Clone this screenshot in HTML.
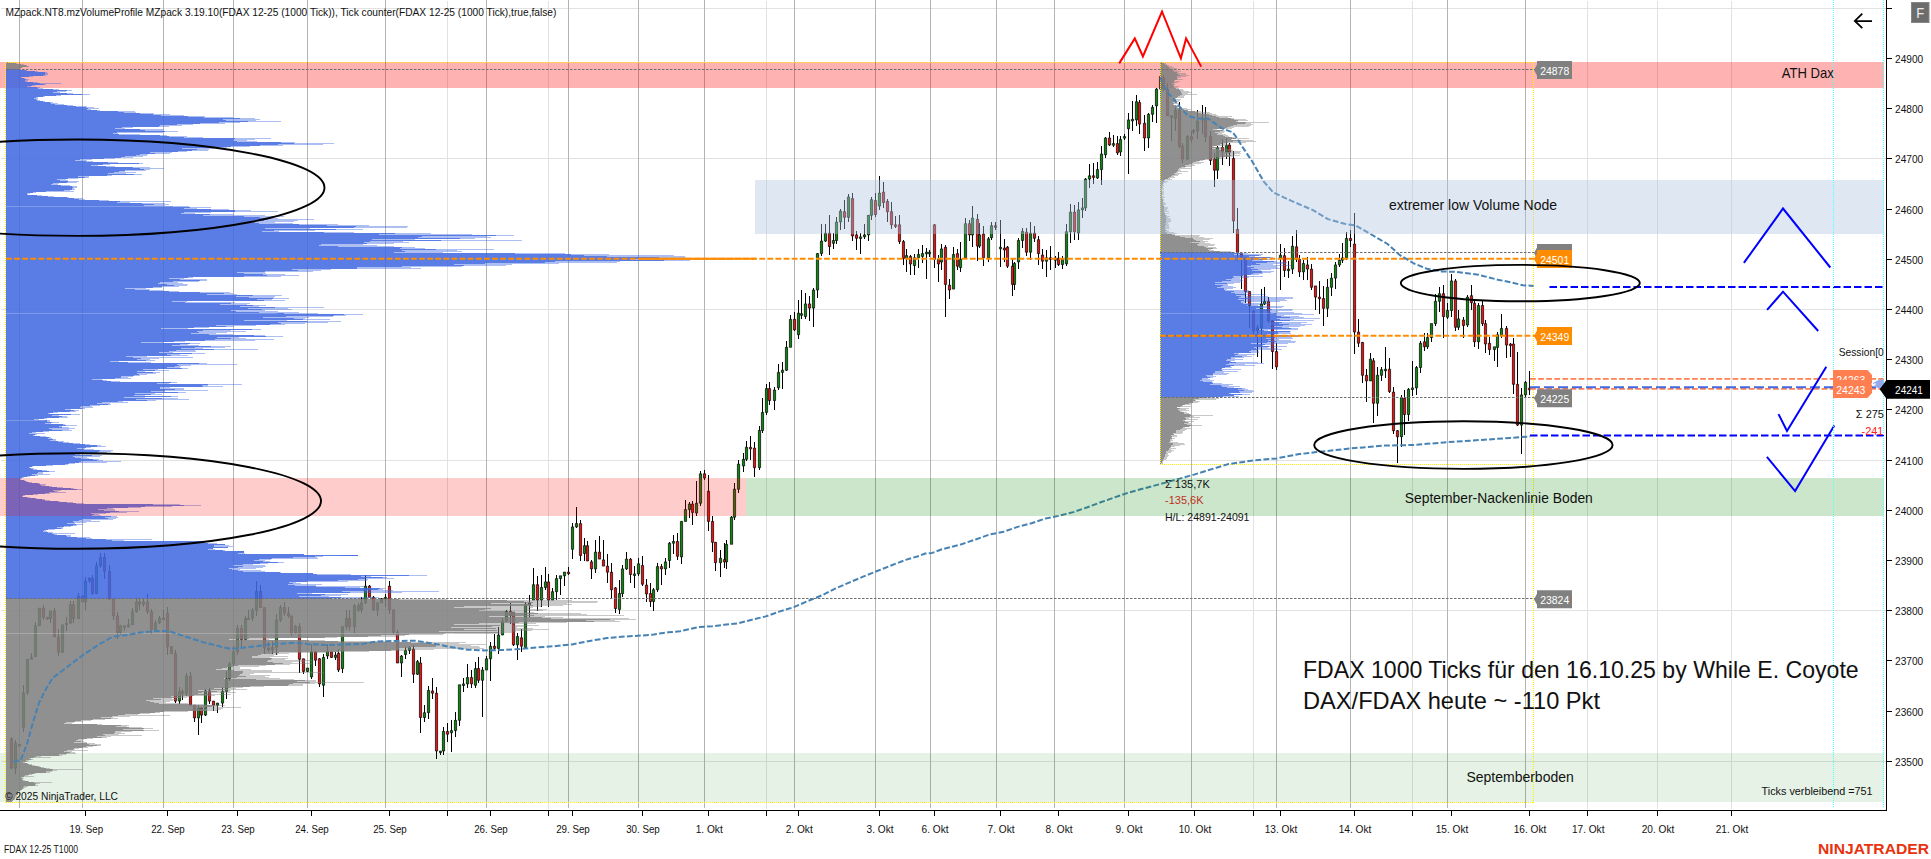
<!DOCTYPE html><html><head><meta charset="utf-8"><title>FDAX 12-25 T1000</title><style>html,body{margin:0;padding:0;background:#fff;overflow:hidden}svg{display:block}</style></head><body><svg width="1931" height="859" viewBox="0 0 1931 859"><rect x="0" y="0" width="1931" height="859" fill="#fff"/>
<path d="M447 0V808M548 0V808M766 0V808M1253 0V808M1412 0V808M1587 0V808M1657 0V808M1731 0V808M0 8H1885M0 158H1885M0 309H1885M0 460H1885M0 610H1885M0 761H1885" stroke="#e2e2e2" stroke-width="1" fill="none" shape-rendering="crispEdges" transform="translate(.5 .5)"/>
<path d="M19 0V808M82 0V808M163 0V808M233 0V808M307 0V808M385 0V808M486 0V808M568 0V808M638 0V808M704 0V808M794 0V808M875 0V808M930 0V808M996 0V808M1054 0V808M1124 0V808M1191 0V808M1276 0V808M1350 0V808M1447 0V808M1525 0V808" stroke="#b4b4b4" stroke-width="1" fill="none" shape-rendering="crispEdges" transform="translate(.5 0)"/>
<g transform="translate(.5 0)">
<path d="M11 736.9V769.2M15 740.1V774.2M19 744.5V745.9M23 684.8V731.7M27 659.2V694.8M31 653.3V659.2M35 621.7V657.4M39 608.1V625.7M43 605.1V620.3M47 617.3V619.7M50 610.9V622.7M54 607.9V636.9M58 628.9V656.2M62 624.8V653.2M66 617.2V630.8M70 600.7V623.2M73 600.7V622.7M78 593.3V618.7M82 595.3V601.9M85 577V609.9M89 577.2V583M92 575.2V594.5M96 561.6V593.5M100 553.2V567.6M104 553.2V579.2M109 565.2V600.1M113 599.1V619.9M117 611.9V638.7M120 624.7V634.7M124 625.7V631.1M128 618.8V627.1M132 607.7V624.8M136 597.9V612.7M139 598.9V610.2M143 597.9V607.2M147 593.9V613.7M151 608.7V633.9M155 619.9V631.9M159 616.1V623.9M163 610.1V620.3M167 607.1V654.6M171 645.6V653.6M175 649.6V703.1M179 687.4V704.1M182 689.4V699.6M186 673V695.6M190 672V705.3M194 705.3V721.9M198 705.1V734.7M201 707.1V723.1M205 688.8V716.1M209 687.8V704.1M213 701.1V711.3M217 703.1V713.3M222 687.4V707.1M226 670.8V699.4M229 662V680.8M233 645.7V666M237 624.5V654.7M241 624.5V647.7M245 615.7V639.7M248 610.1V618.7M252 608.3V621.1M256 581V616.3M260 585.3V607.5M264 607.5V654M268 642V652M272 641.2V654M276 614.1V655.2M280 604.5V622.1M284 601.5V616.1M288 607.1V617.9M291 615.9V636.2M295 624.5V634.2M299 622.6V672.8M303 658.8V674.4M307 668V672.4M311 643.8V678.9M315 650.8V666.2M319 657.8V686.9M323 654.4V696.5M327 643.8V659M331 651.8V658.4M335 652.1V660.4M338 649.2V672M342 625.6V672.8M346 610.3V629.6M349 610.3V630.6M354 603.7V632.6M358 602.7V611.9M361 596.9V612.9M365 574.9V603.9M369 585.1V597.3M373 596.3V610.9M377 601.9V615.9M381 597.7V602.9M385 594.3V606.7M389 580.5V613.9M393 608.9V634.2M397 630.2V663M401 655V676.9M405 647.4V658.6M409 645.6V654.4M413 645V682.5M417 659.6V675.2M420 657V733.4M424 704.7V721.5M428 686.4V718.7M432 678.3V699.2M436 687.2V758.6M440 751V754.9M443 727.3V755.2M447 723.4V742.2M451 720.3V751.9M455 712.3V736.6M459 684.8V725.9M463 678.3V692.3M467 664.4V688.1M471 669.5V687.9M475 661.6V688.3M478 657.4V683.3M482 667V716.6M486 655.8V670M490 642V681.1M494 633.6V651.4M498 626.6V654.4M502 618.1V635M506 609.9V622.1M510 602.9V623.8M513 612.1V645.8M517 633.4V659.6M521 629.4V651.8M525 601.5V648.6M529 594.5V616.9M533 567.9V600.1M537 576.3V611.3M541 574.9V607.1M545 566.6V589.5M548 573.5V606.5M552 587.7V600.1M556 574.9V600.1M560 575.8V594.5M564 572.1V586.1M568 566.6V574.9M572 522.9V559.1M576 507.4V527.9M580 519.6V560.5M584 538.1V561M587 540.9V561M591 559.9V578.7M595 540.4V572.9M599 535.9V559.1M603 539.5V566.1M607 553.5V582.8M611 563.3V597.8M615 586.9V612.8M619 580.1V613.6M622 564.9V596.5M626 552.1V569.9M630 557.7V583.4M634 566.1V588.4M638 557.8V575.9M642 555.5V586.2M646 578.7V601.9M650 582.8V607.4M653 587.8V610.8M657 562.6V591.8M661 563.6V585.1M665 557.7V574.5M669 542.3V567.5M673 535.3V553.5M677 533.1V559.9M681 521.4V563.8M685 500.4V521.4M689 502.4V517.6M692 501V524.7M696 480.8V516M700 470.8V506.2M704 469.7V480M708 475.2V531.1M712 515.8V552.1M715 542.3V571.1M720 549.9V576.7M724 543.2V568.3M726 539.5V568.9M731 516.2V544.3M734 483.2V520M738 460.4V493.4M743 452.9V472.4M746 440.9V461.3M750 436.1V459.9M754 442.1V476.6M759 425.8V469.7M762 398.4V432.5M766 384.4V415.4M769 381.6V404.5M774 387.2V410.1M778 363.5V389.7M782 362.2V389.2M786 341.3V371.2M790 315.3V347.3M794 312.3V330.9M798 299.7V339.4M801 290V319.1M805 292.8V318.7M809 295.6V320.7M813 288V327.1M817 252.6V298.3M821 223.7V256.4M825 223.7V242.4M829 214.5V254.5M833 233.2V249.4M836 217.3V243.8M840 208.9V229.9M844 199.7V228.5M848 194.1V221.5M852 192.6V241.1M856 231.3V250M860 232.9V253.6M864 224.3V238.8M868 215.3V241.1M871 196.9V220.1M875 192.5V217.3M879 176.2V209.7M883 181.8V207.5M887 199.1V222M891 201.9V228.5M895 215.9V227.6M899 215.3V244.4M903 239.7V264.8M906 249.4V272.4M910 254.5V274.6M914 253.6V275.1M918 249.4V268.4M922 245.2V262.9M926 248.2V278.8M929 250V257.3M934 223.7V267.6M938 255V281.6M941 243.8V270.4M945 245.2V316.5M949 279.2V299.2M953 246.5V289.1M957 248.9V270.4M960 242.4V271.8M965 217.7V258.4M969 220.1V241.1M972 206.1V247.2M977 213.7V260.6M979 222.9V248M983 226.1V265.6M988 236.8V262M991 221.7V239.7M995 222V229.9M1000 220.1V266.8M1004 238.8V262M1007 246.2V268.2M1012 258.2V296.4M1014 262.4V290M1018 238.3V269M1022 227.6V248M1026 228.1V256.2M1030 222V260.2M1034 225.7V242.3M1038 236V264.8M1042 249.4V269M1046 250V277.4M1050 246.1V270.4M1055 256.2V268M1058 252.2V265.6M1062 255.6V268.6M1066 223.7V265.8M1070 204.1V242.8M1074 205.1V239.7M1078 201.9V240.1M1082 198.1V217.7M1085 178.1V210.7M1089 164V188.3M1093 163.2V184.2M1097 162.4V179.1M1101 146V184.7M1105 136.6V157.6M1109 132.4V146M1113 135.2V147.3M1117 135.6V154.8M1120 136.4V155.6M1124 133.8V140M1128 112.9V174.4M1132 100.9V131.1M1136 94.7V125.9M1139 99.7V133.8M1144 115.2V150.6M1148 113.3V147.8M1152 104.5V122.1M1156 88.1V123.2M1160 72.6V98.9M1163 74.9V91.1M1167 83.1V115.7M1171 115.7V140.8M1175 107.3V131.1M1179 102.1V148.4M1182 143.4V163.2M1187 134.6V160M1191 130.6V143.4M1193 128.5V134.1M1197 110.1V139.1M1202 105.3V133.8M1205 107.3V142.2M1210 131.1V164.6M1214 153V186.9M1217 145.8V179.1M1222 138.9V164.6M1226 138V159M1229 143V166M1233 150.6V233.1M1237 207.6V260.7M1241 253.8V288.7M1245 256.9V303.2M1249 291.5V327.8M1253 310.1V334.8M1257 324.8V357.2M1261 289.3V362.8M1264 287.3V305.1M1268 296.5V322.8M1272 319.8V369.2M1276 343.2V369.7M1280 244V290.1M1284 248.2V277M1288 261.3V278.1M1292 235.6V274.2M1296 230V262.3M1299 255.3V277M1303 259.5V280.3M1307 256.9V279.7M1311 264.1V290.1M1315 285.9V309.7M1319 280.9V313.8M1323 285.9V326.4M1327 278.9V316.6M1331 272.5V295.7M1335 261.9V288.7M1339 253.8V266.9M1342 242.6V263M1346 232.4V259.9M1350 230.4V246.6M1354 213.2V354.4M1358 318.9V347.4M1362 342.4V383.3M1366 369.3V401.9M1370 353V380.9M1373 357.8V423.4M1377 367.3V415.9M1381 366.9V381.3M1385 346.8V377.7M1389 358V392.5M1393 386.5V433.7M1397 429.7V463.4M1401 394.7V446.6M1404 390.3V435.4M1408 387.9V420.5M1412 360.8V396.3M1416 365.5V394.9M1420 341.2V373.1M1424 333.4V350.7M1427 333.4V348.8M1431 323.6V341.8M1435 293.7V326.4M1439 287.3V312.4M1443 284.5V337.6M1447 302.5V319.4M1451 274.2V316.5M1455 278.9V330.6M1458 309.7V330.1M1463 317V337.6M1467 294.8V327.3M1471 285.3V309.7M1474 300.2V347.4M1478 302.5V348.8M1482 299.9V326.4M1485 320V353M1489 337.2V355.2M1494 346.8V360.8M1497 332V366.9M1501 313.8V337.6M1506 325.6V358M1510 343.2V357.2M1513 338V393.5M1517 351.6V425.6M1521 387.9V453.6M1525 381.3V397.7M1529 371.1V394.9" stroke="#000" stroke-width="1" fill="none" shape-rendering="crispEdges"/>
<path d="M13.9 743.1h2.2V768.2h-2.2zM17.9 744.5h2.2V746.1h-2.2zM21.9 692.8h2.2V727.7h-2.2zM25.9 659.2h2.2V692.8h-2.2zM29.9 657.3h2.2V659.2h-2.2zM33.9 625.7h2.2V656.4h-2.2zM37.9 608.1h2.2V625.7h-2.2zM48.9 610.9h2.2V618.7h-2.2zM60.9 624.8h2.2V652.2h-2.2zM64.9 623.2h2.2V624.8h-2.2zM68.9 604.7h2.2V623.2h-2.2zM76.9 596.3h2.2V618.7h-2.2zM83.9 581h2.2V601.9h-2.2zM87.9 578.2h2.2V581h-2.2zM94.9 565.6h2.2V593.5h-2.2zM98.9 557.2h2.2V565.6h-2.2zM118.9 625.7h2.2V632.7h-2.2zM126.9 624.8h2.2V627.1h-2.2zM130.9 611.7h2.2V624.8h-2.2zM134.9 601.9h2.2V611.7h-2.2zM141.9 601.9h2.2V604.2h-2.2zM153.9 622.9h2.2V629.9h-2.2zM157.9 618.1h2.2V622.9h-2.2zM177.9 691.4h2.2V701.1h-2.2zM184.9 676h2.2V693.6h-2.2zM196.9 708.1h2.2V717.9h-2.2zM203.9 690.8h2.2V715.1h-2.2zM215.9 703.1h2.2V705.3h-2.2zM220.9 691.4h2.2V703.1h-2.2zM224.9 678.8h2.2V691.4h-2.2zM227.9 664h2.2V678.8h-2.2zM231.9 651.7h2.2V664h-2.2zM235.9 628.5h2.2V651.7h-2.2zM243.9 618.7h2.2V639.7h-2.2zM246.9 618.1h2.2V619.7h-2.2zM250.9 610.3h2.2V618.1h-2.2zM254.9 591.3h2.2V610.3h-2.2zM270.9 647.2h2.2V650h-2.2zM274.9 620.1h2.2V647.2h-2.2zM278.9 607.5h2.2V620.1h-2.2zM293.9 626.5h2.2V633.2h-2.2zM305.9 668h2.2V671.4h-2.2zM309.9 651.8h2.2V676.9h-2.2zM321.9 657.4h2.2V685.3h-2.2zM325.9 651.8h2.2V656h-2.2zM333.9 655.1h2.2V657.4h-2.2zM340.9 626.6h2.2V668.6h-2.2zM344.9 618.3h2.2V626.6h-2.2zM352.9 605.7h2.2V626.6h-2.2zM359.9 602.9h2.2V609.9h-2.2zM363.9 586.1h2.2V602.9h-2.2zM375.9 602.9h2.2V609.9h-2.2zM379.9 598.7h2.2V602.9h-2.2zM383.9 597.3h2.2V598.9h-2.2zM399.9 656h2.2V663h-2.2zM403.9 650.4h2.2V654.6h-2.2zM407.9 647.6h2.2V650.4h-2.2zM415.9 661.6h2.2V674.2h-2.2zM422.9 712.7h2.2V717.5h-2.2zM426.9 690.4h2.2V712.7h-2.2zM438.9 751h2.2V752.6h-2.2zM441.9 731.4h2.2V751h-2.2zM449.9 730.6h2.2V732.8h-2.2zM453.9 720.3h2.2V730.6h-2.2zM457.9 684.8h2.2V720.3h-2.2zM461.9 683.9h2.2V685.5h-2.2zM465.9 677.5h2.2V683.9h-2.2zM473.9 668.6h2.2V685.3h-2.2zM480.9 670h2.2V680.3h-2.2zM484.9 658.8h2.2V670h-2.2zM488.9 646.2h2.2V658.8h-2.2zM496.9 635h2.2V648.4h-2.2zM500.9 621.1h2.2V635h-2.2zM504.9 611.3h2.2V621.1h-2.2zM515.9 636.4h2.2V644.8h-2.2zM523.9 604.3h2.2V647.6h-2.2zM527.9 602.9h2.2V604.5h-2.2zM531.9 584.7h2.2V600.1h-2.2zM539.9 587.5h2.2V600.1h-2.2zM543.9 581.9h2.2V587.5h-2.2zM550.9 591.7h2.2V600.1h-2.2zM554.9 578.6h2.2V591.7h-2.2zM558.9 575.8h2.2V578.6h-2.2zM562.9 572.1h2.2V575.8h-2.2zM570.9 526.9h2.2V549.3h-2.2zM574.9 523.6h2.2V526.9h-2.2zM582.9 545.7h2.2V553.5h-2.2zM593.9 552.1h2.2V568.9h-2.2zM617.9 593.5h2.2V609.4h-2.2zM620.9 568.9h2.2V593.5h-2.2zM624.9 559.1h2.2V568.9h-2.2zM632.9 573.9h2.2V575.5h-2.2zM636.9 563.8h2.2V573.9h-2.2zM651.9 589.8h2.2V601.6h-2.2zM655.9 566.6h2.2V589.8h-2.2zM663.9 561.9h2.2V568.9h-2.2zM667.9 543.2h2.2V560.5h-2.2zM671.9 541.5h2.2V543.2h-2.2zM679.9 521.4h2.2V556.9h-2.2zM683.9 509.6h2.2V521.4h-2.2zM687.9 504h2.2V509.6h-2.2zM694.9 503.2h2.2V513h-2.2zM698.9 473.8h2.2V503.2h-2.2zM718.9 558.3h2.2V562.7h-2.2zM724.9 544.3h2.2V561.9h-2.2zM729.9 517.2h2.2V544.3h-2.2zM732.9 489.2h2.2V517.2h-2.2zM736.9 464.1h2.2V489.2h-2.2zM741.9 459.3h2.2V466h-2.2zM744.9 447.3h2.2V459.3h-2.2zM757.9 430.5h2.2V467.7h-2.2zM760.9 412.4h2.2V430.5h-2.2zM764.9 388.6h2.2V412.4h-2.2zM772.9 390h2.2V400.6h-2.2zM776.9 372.4h2.2V387.8h-2.2zM780.9 370.2h2.2V372.4h-2.2zM784.9 347.3h2.2V370.2h-2.2zM788.9 319.3h2.2V347.3h-2.2zM796.9 313.2h2.2V334.7h-2.2zM799.9 313.7h2.2V315.3h-2.2zM803.9 303.9h2.2V316.5h-2.2zM811.9 290h2.2V308.1h-2.2zM815.9 253.6h2.2V290h-2.2zM819.9 241.1h2.2V253.6h-2.2zM823.9 233.2h2.2V241.1h-2.2zM831.9 240.5h2.2V243.3h-2.2zM834.9 222h2.2V240.5h-2.2zM838.9 211.1h2.2V222h-2.2zM846.9 196.9h2.2V217.3h-2.2zM858.9 236.9h2.2V238.5h-2.2zM862.9 234.9h2.2V236.9h-2.2zM866.9 215.3h2.2V234.9h-2.2zM869.9 199.7h2.2V215.3h-2.2zM877.9 193h2.2V206.1h-2.2zM904.9 255.6h2.2V258.4h-2.2zM912.9 257.8h2.2V265.6h-2.2zM916.9 254.5h2.2V257.8h-2.2zM920.9 253.6h2.2V256.4h-2.2zM924.9 252.2h2.2V253.8h-2.2zM927.9 252.2h2.2V253.8h-2.2zM939.9 248.9h2.2V262h-2.2zM951.9 254.5h2.2V289.1h-2.2zM958.9 259.2h2.2V267.6h-2.2zM963.9 223.7h2.2V257.8h-2.2zM970.9 218.1h2.2V234.9h-2.2zM977.9 234.9h2.2V246.1h-2.2zM986.9 238.8h2.2V257.8h-2.2zM989.9 225.7h2.2V237.7h-2.2zM998.9 247.2h2.2V248.8h-2.2zM1012.9 263.4h2.2V284.4h-2.2zM1016.9 240.5h2.2V262h-2.2zM1020.9 231.3h2.2V240.5h-2.2zM1028.9 233.2h2.2V252.2h-2.2zM1044.9 257.8h2.2V261.2h-2.2zM1053.9 258.2h2.2V260.2h-2.2zM1060.9 259.6h2.2V264.6h-2.2zM1064.9 231.7h2.2V263.8h-2.2zM1068.9 212.1h2.2V231.7h-2.2zM1076.9 209.9h2.2V233.1h-2.2zM1080.9 207.9h2.2V209.9h-2.2zM1083.9 179.1h2.2V207.9h-2.2zM1087.9 175.8h2.2V179.1h-2.2zM1095.9 169.6h2.2V178h-2.2zM1099.9 154h2.2V169.6h-2.2zM1103.9 138h2.2V154.8h-2.2zM1111.9 143.6h2.2V145.2h-2.2zM1118.9 139.4h2.2V152h-2.2zM1122.9 136.6h2.2V138.2h-2.2zM1126.9 119.9h2.2V128.8h-2.2zM1130.9 119.3h2.2V120.9h-2.2zM1134.9 101.7h2.2V119.9h-2.2zM1146.9 114.3h2.2V138h-2.2zM1150.9 107.3h2.2V114.3h-2.2zM1154.9 89.1h2.2V105.9h-2.2zM1158.9 76.6h2.2V89.1h-2.2zM1173.9 110.1h2.2V118.5h-2.2zM1185.9 136.6h2.2V159h-2.2zM1191.9 130.5h2.2V132.1h-2.2zM1195.9 121.3h2.2V131.1h-2.2zM1200.9 118.5h2.2V120.1h-2.2zM1215.9 147.8h2.2V170.2h-2.2zM1224.9 145.6h2.2V152h-2.2zM1255.9 327.8h2.2V330.6h-2.2zM1259.9 304.1h2.2V327.8h-2.2zM1262.9 301.3h2.2V304.1h-2.2zM1278.9 255.2h2.2V257.9h-2.2zM1286.9 269.1h2.2V270.7h-2.2zM1290.9 246.2h2.2V269.1h-2.2zM1301.9 263.5h2.2V271.9h-2.2zM1325.9 287.3h2.2V308.3h-2.2zM1329.9 278.1h2.2V287.3h-2.2zM1333.9 264.9h2.2V278.1h-2.2zM1337.9 260.2h2.2V264.9h-2.2zM1340.9 257.9h2.2V260.2h-2.2zM1344.9 238.4h2.2V257.9h-2.2zM1368.9 359.1h2.2V380.9h-2.2zM1375.9 375.3h2.2V403.3h-2.2zM1379.9 369.7h2.2V375.3h-2.2zM1383.9 369.2h2.2V370.8h-2.2zM1399.9 397.7h2.2V436.8h-2.2zM1406.9 389.3h2.2V414.5h-2.2zM1410.9 387.9h2.2V389.5h-2.2zM1414.9 367.5h2.2V387.9h-2.2zM1418.9 343.2h2.2V367.5h-2.2zM1425.9 337.6h2.2V346.8h-2.2zM1429.9 323.6h2.2V337.6h-2.2zM1433.9 301.3h2.2V323.6h-2.2zM1437.9 293.7h2.2V301.3h-2.2zM1445.9 310.5h2.2V317.2h-2.2zM1449.9 280.9h2.2V310.5h-2.2zM1456.9 318.9h2.2V327.3h-2.2zM1465.9 297.1h2.2V325h-2.2zM1476.9 305.5h2.2V341.8h-2.2zM1492.9 346.8h2.2V349.6h-2.2zM1495.9 334.8h2.2V347.4h-2.2zM1499.9 328.4h2.2V335.6h-2.2zM1519.9 394.9h2.2V425.1h-2.2zM1523.9 382.3h2.2V394.9h-2.2z" fill="#0a8a0a" stroke="#000" stroke-width=".7"/>
<path d="M9.9 738.9h2.2V768.2h-2.2zM41.9 608.1h2.2V617.3h-2.2zM45.9 617.3h2.2V618.9h-2.2zM52.9 610.9h2.2V636.9h-2.2zM56.9 636.9h2.2V652.2h-2.2zM71.9 604.7h2.2V618.7h-2.2zM80.9 596.3h2.2V601.9h-2.2zM90.9 578.2h2.2V593.5h-2.2zM102.9 557.2h2.2V571.2h-2.2zM107.9 571.2h2.2V599.1h-2.2zM111.9 599.1h2.2V615.9h-2.2zM115.9 615.9h2.2V632.7h-2.2zM122.9 625.7h2.2V627.3h-2.2zM137.9 601.9h2.2V604.2h-2.2zM145.9 601.9h2.2V611.7h-2.2zM149.9 611.7h2.2V629.9h-2.2zM161.9 618.1h2.2V619.7h-2.2zM165.9 613.1h2.2V646.6h-2.2zM169.9 646.6h2.2V653.6h-2.2zM173.9 653.6h2.2V701.1h-2.2zM180.9 691.4h2.2V693.6h-2.2zM188.9 676h2.2V705.3h-2.2zM192.9 705.3h2.2V717.9h-2.2zM199.9 708.1h2.2V715.1h-2.2zM207.9 690.8h2.2V701.1h-2.2zM211.9 701.1h2.2V705.3h-2.2zM239.9 628.5h2.2V639.7h-2.2zM258.9 591.3h2.2V607.5h-2.2zM262.9 607.5h2.2V648h-2.2zM266.9 648h2.2V650h-2.2zM282.9 607.5h2.2V613.1h-2.2zM286.9 613.1h2.2V615.9h-2.2zM289.9 615.9h2.2V633.2h-2.2zM297.9 626.6h2.2V659.3h-2.2zM301.9 658.8h2.2V671.4h-2.2zM313.9 651.8h2.2V660.2h-2.2zM317.9 658.8h2.2V683.9h-2.2zM329.9 651.8h2.2V657.4h-2.2zM336.9 653.2h2.2V670h-2.2zM347.9 618.3h2.2V626.6h-2.2zM356.9 605.7h2.2V609.9h-2.2zM367.9 586.1h2.2V597.3h-2.2zM371.9 597.3h2.2V609.9h-2.2zM387.9 586.1h2.2V609.9h-2.2zM391.9 609.9h2.2V632.2h-2.2zM395.9 632.2h2.2V663h-2.2zM411.9 649h2.2V674.2h-2.2zM418.9 663h2.2V717.5h-2.2zM430.9 690.9h2.2V693.2h-2.2zM434.9 693.2h2.2V751h-2.2zM445.9 731.4h2.2V734.2h-2.2zM469.9 677.5h2.2V683.9h-2.2zM476.9 668.6h2.2V680.3h-2.2zM492.9 646.2h2.2V648.4h-2.2zM508.9 611.3h2.2V615.5h-2.2zM511.9 612.1h2.2V644.8h-2.2zM519.9 637.8h2.2V646.2h-2.2zM535.9 584.7h2.2V600.1h-2.2zM546.9 581.9h2.2V600.1h-2.2zM566.9 572.1h2.2V573.7h-2.2zM578.9 523.6h2.2V555.5h-2.2zM585.9 545.7h2.2V561h-2.2zM589.9 561.9h2.2V568.9h-2.2zM597.9 552.1h2.2V559.1h-2.2zM601.9 559.9h2.2V566.1h-2.2zM605.9 566.1h2.2V572.2h-2.2zM609.9 572.2h2.2V589.8h-2.2zM613.9 587.9h2.2V608.6h-2.2zM628.9 559.1h2.2V574.5h-2.2zM640.9 565.5h2.2V584.2h-2.2zM644.9 585.1h2.2V594h-2.2zM648.9 593.5h2.2V601.6h-2.2zM659.9 566.6h2.2V568.9h-2.2zM675.9 541.5h2.2V556.3h-2.2zM690.9 504h2.2V512.4h-2.2zM702.9 473.8h2.2V478h-2.2zM706.9 491.2h2.2V521.4h-2.2zM710.9 521.4h2.2V542.3h-2.2zM713.9 542.3h2.2V562.7h-2.2zM722.9 559.6h2.2V561.9h-2.2zM748.9 447.3h2.2V448.9h-2.2zM752.9 448.1h2.2V467.7h-2.2zM767.9 388.6h2.2V400.6h-2.2zM792.9 319.3h2.2V329.9h-2.2zM807.9 303.9h2.2V308.1h-2.2zM827.9 233.2h2.2V246.6h-2.2zM842.9 211.7h2.2V217.3h-2.2zM850.9 198.6h2.2V236h-2.2zM854.9 234.9h2.2V238.3h-2.2zM873.9 200.5h2.2V214.5h-2.2zM881.9 192.1h2.2V202.5h-2.2zM885.9 201.4h2.2V211.7h-2.2zM889.9 211.7h2.2V224.8h-2.2zM893.9 224.8h2.2V226.4h-2.2zM897.9 224.8h2.2V241.6h-2.2zM901.9 241.6h2.2V258.4h-2.2zM908.9 256.4h2.2V264h-2.2zM932.9 224.8h2.2V259.2h-2.2zM936.9 259.2h2.2V264h-2.2zM943.9 247.2h2.2V284.4h-2.2zM947.9 285.2h2.2V290h-2.2zM955.9 253.6h2.2V266.2h-2.2zM967.9 223.7h2.2V234.9h-2.2zM975.9 219.3h2.2V246.1h-2.2zM981.9 234.1h2.2V257.8h-2.2zM993.9 225.7h2.2V227.3h-2.2zM1002.9 248h2.2V250h-2.2zM1005.9 247.2h2.2V266.2h-2.2zM1010.9 266.2h2.2V284.4h-2.2zM1024.9 232.1h2.2V252.2h-2.2zM1032.9 233.2h2.2V238.3h-2.2zM1036.9 239.7h2.2V253.6h-2.2zM1040.9 255h2.2V261.2h-2.2zM1048.9 257.8h2.2V259.4h-2.2zM1056.9 258.2h2.2V264.6h-2.2zM1072.9 212.1h2.2V231.7h-2.2zM1091.9 175.8h2.2V177.4h-2.2zM1107.9 138h2.2V145h-2.2zM1115.9 143.6h2.2V152.9h-2.2zM1137.9 102.5h2.2V124.1h-2.2zM1142.9 123.2h2.2V138h-2.2zM1161.9 77.9h2.2V89.1h-2.2zM1165.9 89.1h2.2V115.7h-2.2zM1169.9 115.7h2.2V117.3h-2.2zM1177.9 110.1h2.2V146.4h-2.2zM1180.9 146.4h2.2V159h-2.2zM1189.9 136.6h2.2V139.4h-2.2zM1203.9 118.5h2.2V136.6h-2.2zM1208.9 136.6h2.2V160.4h-2.2zM1212.9 159h2.2V170.2h-2.2zM1220.9 147.3h2.2V152h-2.2zM1227.9 145h2.2V152h-2.2zM1231.9 158.4h2.2V221h-2.2zM1235.9 229.4h2.2V252.4h-2.2zM1239.9 253.8h2.2V257.9h-2.2zM1243.9 257.9h2.2V291.5h-2.2zM1247.9 291.5h2.2V305.5h-2.2zM1251.9 311.1h2.2V330.6h-2.2zM1266.9 301.3h2.2V320.8h-2.2zM1270.9 320.8h2.2V351.6h-2.2zM1274.9 351.6h2.2V366.9h-2.2zM1282.9 255.7h2.2V270.5h-2.2zM1294.9 246.8h2.2V259.3h-2.2zM1297.9 259.3h2.2V271.9h-2.2zM1305.9 264.9h2.2V269.1h-2.2zM1309.9 269.1h2.2V287.3h-2.2zM1313.9 285.9h2.2V297.1h-2.2zM1317.9 297.1h2.2V298.7h-2.2zM1321.9 298.5h2.2V308.3h-2.2zM1348.9 238.4h2.2V240.6h-2.2zM1352.9 244h2.2V332h-2.2zM1356.9 332h2.2V343.2h-2.2zM1360.9 342.4h2.2V375.3h-2.2zM1364.9 375.3h2.2V380.9h-2.2zM1371.9 360.8h2.2V403.3h-2.2zM1387.9 369.2h2.2V391.5h-2.2zM1391.9 392.1h2.2V430.7h-2.2zM1395.9 430.7h2.2V436.8h-2.2zM1402.9 398.3h2.2V414.5h-2.2zM1422.9 341.8h2.2V346.8h-2.2zM1441.9 293.7h2.2V316.6h-2.2zM1453.9 280.9h2.2V327.3h-2.2zM1461.9 320h2.2V325.6h-2.2zM1469.9 295.7h2.2V302.7h-2.2zM1472.9 303.2h2.2V341.8h-2.2zM1480.9 305.5h2.2V323.6h-2.2zM1483.9 323.6h2.2V344h-2.2zM1487.9 343.2h2.2V349.6h-2.2zM1504.9 328.4h2.2V345.1h-2.2zM1508.9 344h2.2V345.6h-2.2zM1511.9 344h2.2V384.3h-2.2zM1515.9 384.3h2.2V425.1h-2.2zM1527.9 388.2h2.2V389.8h-2.2z" fill="#f01010" stroke="#000" stroke-width=".7"/>
</g>
<rect x="0" y="62" width="1884" height="26" fill="#ff0000" fill-opacity="0.3" shape-rendering="crispEdges"/>
<rect x="0" y="753" width="1884" height="49" fill="#008000" fill-opacity="0.1" shape-rendering="crispEdges"/>
<path d="M6 62H9.3v1H6zM6 63H15.9v1H6zM6 64H21.3v1H6zM6 65H26v1H6zM6 66H28v1H6zM6 67H21.5v1H6zM6 68H20.1v1H6z" fill="#808080" fill-opacity="0.87" shape-rendering="crispEdges"/>
<path d="M9.3 62H9.6v1H9.3zM15.9 63H16.8v1H15.9zM21.3 64H23.7v1H21.3zM26 65H27.4v1H26zM28 66H29.4v1H28zM21.5 67H22.5v1H21.5zM20.1 68H20.8v1H20.1z" fill="#808080" fill-opacity="0.435" shape-rendering="crispEdges"/>
<path d="M6 69H18.8v1H6zM6 70H26v1H6zM6 71H35.3v1H6zM6 72H44.5v1H6zM6 73H44.9v1H6zM6 74H45.2v1H6zM6 75H43.4v1H6zM6 76H29.4v1H6zM6 77H21.1v1H6zM6 78H24.1v1H6zM6 79H26v1H6zM6 80H25.2v1H6zM6 81H25.4v1H6zM6 82H33v1H6zM6 83H40.1v1H6zM6 84H43.8v1H6zM6 85H32v1H6zM6 86H27.4v1H6zM6 87H36.9v1H6zM6 88H37.9v1H6zM6 89H53.3v1H6zM6 90H67v1H6zM6 91H57.3v1H6zM6 92H53v1H6zM6 93H66.8v1H6zM6 94H81.5v1H6zM6 95H55.7v1H6zM6 96H42.8v1H6zM6 97H35.8v1H6zM6 98H33.9v1H6zM6 99H36.3v1H6zM6 100H37.2v1H6zM6 101H42.7v1H6zM6 102H50.3v1H6zM6 103H51.2v1H6zM6 104H54.7v1H6zM6 105H67.3v1H6zM6 106H76.3v1H6zM6 107H86.2v1H6zM6 108H88.3v1H6zM6 109H86.6v1H6zM6 110H96.6v1H6zM6 111H118.2v1H6zM6 112H124v1H6zM6 113H140.3v1H6zM6 114H152.6v1H6zM6 115H161.2v1H6zM6 116H187.8v1H6zM6 117H204.3v1H6zM6 118H240.4v1H6zM6 119H222.9v1H6zM6 120H225.8v1H6zM6 121H248.4v1H6zM6 122H219.1v1H6zM6 123H200.1v1H6zM6 124H177v1H6zM6 125H160.2v1H6zM6 126H158.6v1H6zM6 127H121.7v1H6zM6 128H115.4v1H6zM6 129H140.1v1H6zM6 130H144.9v1H6zM6 131H164.5v1H6zM6 132H117.3v1H6zM6 133H112.5v1H6zM6 134H119.2v1H6zM6 135H159.8v1H6zM6 136H169.2v1H6zM6 137H183.9v1H6zM6 138H234.6v1H6zM6 139H234.4v1H6zM6 140H232.9v1H6zM6 141H236.6v1H6zM6 142H281.3v1H6zM6 143H293.7v1H6zM6 144H277.8v1H6zM6 145H259.7v1H6zM6 146H231.1v1H6zM6 147H213.9v1H6zM6 148H182.1v1H6zM6 149H197.3v1H6zM6 150H191.8v1H6zM6 151H178v1H6zM6 152H149.5v1H6zM6 153H155.3v1H6zM6 154H139.5v1H6zM6 155H136.4v1H6zM6 156H124.5v1H6zM6 157H121.3v1H6zM6 158H103.8v1H6zM6 159H79.9v1H6zM6 160H75.2v1H6zM6 161H85.8v1H6zM6 162H108.4v1H6zM6 163H139.1v1H6zM6 164H103.2v1H6zM6 165H91.4v1H6zM6 166H105.8v1H6zM6 167H133.3v1H6zM6 168H139.8v1H6zM6 169H144.1v1H6zM6 170H125v1H6zM6 171H119.2v1H6zM6 172H113.6v1H6zM6 173H107.9v1H6zM6 174H133.6v1H6zM6 175H107.2v1H6zM6 176H78.4v1H6zM6 177H84.7v1H6zM6 178H68.3v1H6zM6 179H57.4v1H6zM6 180H60.2v1H6zM6 181H67.9v1H6zM6 182H67.1v1H6zM6 183H52.7v1H6zM6 184H51.3v1H6zM6 185H60.7v1H6zM6 186H72v1H6zM6 187H73.4v1H6zM6 188H71.7v1H6zM6 189H71.5v1H6zM6 190H64v1H6zM6 191H46.1v1H6zM6 192H33.2v1H6zM6 193H26.8v1H6zM6 194H26.6v1H6zM6 195H36.5v1H6zM6 196H48.3v1H6zM6 197H66.5v1H6zM6 198H73.8v1H6zM6 199H78.8v1H6zM6 200H98.7v1H6zM6 201H120.1v1H6zM6 202H116.5v1H6zM6 203H142.3v1H6zM6 204H153.8v1H6zM6 205H144.2v1H6zM6 206H173.1v1H6zM6 207H189.9v1H6zM6 208H184.3v1H6zM6 209H210.8v1H6zM6 210H235.4v1H6zM6 211H235v1H6zM6 212H183.6v1H6zM6 213H181.4v1H6zM6 214H209.6v1H6zM6 215H203.4v1H6zM6 216H243.7v1H6zM6 217H260.3v1H6zM6 218H269.7v1H6zM6 219H268.2v1H6zM6 220H264.3v1H6zM6 221H251.4v1H6zM6 222H245.2v1H6zM6 223H258.5v1H6zM6 224H298.7v1H6zM6 225H326.7v1H6zM6 226H355.6v1H6zM6 227H354.4v1H6zM6 228H264.7v1H6zM6 229H335.5v1H6zM6 230H274v1H6zM6 231H261.7v1H6zM6 232H324.4v1H6zM6 233H394.8v1H6zM6 234H379.2v1H6zM6 235H496.1v1H6zM6 236H421.6v1H6zM6 237H418.4v1H6zM6 238H460v1H6zM6 239H371.5v1H6zM6 240H440.6v1H6zM6 241H369.5v1H6zM6 242H363.5v1H6zM6 243H366.7v1H6zM6 244H320.9v1H6zM6 245H319.2v1H6zM6 246H338.3v1H6zM6 247H402v1H6zM6 248H399.5v1H6zM6 249H436.2v1H6zM6 250H401.7v1H6zM6 251H405v1H6zM6 252H394.2v1H6zM6 253H514.8v1H6zM6 254H570.6v1H6zM6 255H584v1H6zM6 256H607.2v1H6zM6 257H658.9v1H6zM6 258H660.7v1H6zM6 259H630.3v1H6zM6 260H664.1v1H6zM6 261H555.4v1H6zM6 262H544.6v1H6zM6 263H484.7v1H6zM6 264H454v1H6zM6 265H463.6v1H6zM6 266H401.9v1H6zM6 267H357.2v1H6zM6 268H356.5v1H6zM6 269H291.7v1H6zM6 270H298v1H6zM6 271H265.1v1H6zM6 272H236.9v1H6zM6 273H243.8v1H6zM6 274H263v1H6zM6 275H267.1v1H6zM6 276H244v1H6zM6 277H187.8v1H6zM6 278H169.1v1H6zM6 279H179.9v1H6zM6 280H199.5v1H6zM6 281H173v1H6zM6 282H159.9v1H6zM6 283H158.1v1H6zM6 284H166.5v1H6zM6 285H173.5v1H6zM6 286H161.7v1H6zM6 287H153.1v1H6zM6 288H124.6v1H6zM6 289H134.6v1H6zM6 290H148.6v1H6zM6 291H168.5v1H6zM6 292H200v1H6zM6 293H223.7v1H6zM6 294H207.2v1H6zM6 295H253.1v1H6zM6 296H235.9v1H6zM6 297H249v1H6zM6 298H273.3v1H6zM6 299H257.4v1H6zM6 300H263.6v1H6zM6 301H171.7v1H6zM6 302H185.4v1H6zM6 303H231.2v1H6zM6 304H220.1v1H6zM6 305H253.3v1H6zM6 306H240.2v1H6zM6 307H274.7v1H6zM6 308H247.6v1H6zM6 309H262.3v1H6zM6 310H231.1v1H6zM6 311H236.2v1H6zM6 312H259.3v1H6zM6 313H284.4v1H6zM6 314H343.8v1H6zM6 315H334v1H6zM6 316H286v1H6zM6 317H262.9v1H6zM6 318H293.8v1H6zM6 319H303.3v1H6zM6 320H243.8v1H6zM6 321H306.5v1H6zM6 322H278.3v1H6zM6 323H280.5v1H6zM6 324H270.4v1H6zM6 325H216.3v1H6zM6 326H226.4v1H6zM6 327H193.5v1H6zM6 328H161.1v1H6zM6 329H251.9v1H6zM6 330H203.4v1H6zM6 331H197.4v1H6zM6 332H198.6v1H6zM6 333H191.4v1H6zM6 334H209.1v1H6zM6 335H253.7v1H6zM6 336H265.8v1H6zM6 337H217.1v1H6zM6 338H231v1H6zM6 339H215v1H6zM6 340H205.4v1H6zM6 341H174.3v1H6zM6 342H141.1v1H6zM6 343H190.2v1H6zM6 344H179.9v1H6zM6 345H172v1H6zM6 346H211.3v1H6zM6 347H194.7v1H6zM6 348H180.5v1H6zM6 349H214.3v1H6zM6 350H175.8v1H6zM6 351H168.8v1H6zM6 352H158.7v1H6zM6 353H191.9v1H6zM6 354H167.3v1H6zM6 355H171.3v1H6zM6 356H125.9v1H6zM6 357H132.6v1H6zM6 358H141.4v1H6zM6 359H137v1H6zM6 360H146v1H6zM6 361H110.3v1H6zM6 362H127.8v1H6zM6 363H198.7v1H6zM6 364H176.7v1H6zM6 365H178.8v1H6zM6 366H175.3v1H6zM6 367H166.6v1H6zM6 368H182.2v1H6zM6 369H142.8v1H6zM6 370H154.5v1H6zM6 371H137.2v1H6zM6 372H152.5v1H6zM6 373H136.8v1H6zM6 374H139.1v1H6zM6 375H134.4v1H6zM6 376H120.5v1H6zM6 377H121.2v1H6zM6 378H115.3v1H6zM6 379H92.2v1H6zM6 380H102.6v1H6zM6 381H110.9v1H6zM6 382H170.8v1H6zM6 383H157.2v1H6zM6 384H208.1v1H6zM6 385H201.8v1H6zM6 386H203.3v1H6zM6 387H159.6v1H6zM6 388H159.6v1H6zM6 389H174.9v1H6zM6 390H164.7v1H6zM6 391H151v1H6zM6 392H177.5v1H6zM6 393H134.6v1H6zM6 394H151.1v1H6zM6 395H133.7v1H6zM6 396H171.1v1H6zM6 397H123.5v1H6zM6 398H161.6v1H6zM6 399H135.5v1H6zM6 400H147v1H6zM6 401H117.5v1H6zM6 402H101.9v1H6zM6 403H97.3v1H6zM6 404H108v1H6zM6 405H90v1H6zM6 406H81.4v1H6zM6 407H80.3v1H6zM6 408H81.9v1H6zM6 409H64.5v1H6zM6 410H73.8v1H6zM6 411H70.1v1H6zM6 412H52.7v1H6zM6 413H47.6v1H6zM6 414H70.8v1H6zM6 415H51.5v1H6zM6 416H62.3v1H6zM6 417H58.9v1H6zM6 418H43.6v1H6zM6 419H34.4v1H6zM6 420H47.1v1H6zM6 421H46.6v1H6zM6 422H51.9v1H6zM6 423H44.5v1H6zM6 424H62.6v1H6zM6 425H65.6v1H6zM6 426H58.8v1H6zM6 427H61.6v1H6zM6 428H49.1v1H6zM6 429H51.5v1H6zM6 430H61.8v1H6zM6 431H42.6v1H6zM6 432H32.1v1H6zM6 433H28.9v1H6zM6 434H34.7v1H6zM6 435H32.8v1H6zM6 436H39.9v1H6zM6 437H48.5v1H6zM6 438H48v1H6zM6 439H52.8v1H6zM6 440H50.1v1H6zM6 441H58.1v1H6zM6 442H63.3v1H6zM6 443H73.1v1H6zM6 444H85.4v1H6zM6 445H96.9v1H6zM6 446H97.4v1H6zM6 447H85.5v1H6zM6 448H76.7v1H6zM6 449H84.2v1H6zM6 450H100.4v1H6zM6 451H98.5v1H6zM6 452H96.9v1H6zM6 453H86.4v1H6zM6 454H75.3v1H6zM6 455H92.3v1H6zM6 456H72.7v1H6zM6 457H75.1v1H6zM6 458H80.5v1H6zM6 459H92.7v1H6zM6 460H96.5v1H6zM6 461H81.3v1H6zM6 462H79.1v1H6zM6 463H68.8v1H6zM6 464H64.7v1H6zM6 465H46.1v1H6zM6 466H31.8v1H6zM6 467H28.6v1H6zM6 468H31.2v1H6zM6 469H33v1H6zM6 470H41.8v1H6zM6 471H48.5v1H6zM6 472H37.9v1H6zM6 473H37.1v1H6zM6 474H32.1v1H6zM6 475H34.6v1H6zM6 476H26.5v1H6zM6 477H22.1v1H6zM6 478H19.6v1H6zM6 479H19.5v1H6zM6 480H23.5v1H6zM6 481H25.9v1H6zM6 482H29.1v1H6zM6 483H37.6v1H6zM6 484H40.1v1H6zM6 485H41.3v1H6zM6 486H48.7v1H6zM6 487H56.9v1H6zM6 488H70.8v1H6zM6 489H76.9v1H6zM6 490H53.4v1H6zM6 491H55.4v1H6zM6 492H48.5v1H6zM6 493H45.1v1H6zM6 494H33.2v1H6zM6 495H22.9v1H6zM6 496H21.6v1H6zM6 497H26.9v1H6zM6 498H34.5v1H6zM6 499H42.1v1H6zM6 500H44.6v1H6zM6 501H57.7v1H6zM6 502H67.3v1H6zM6 503H75.9v1H6zM6 504H153.2v1H6zM6 505H184.2v1H6zM6 506H145.4v1H6zM6 507H127.6v1H6zM6 508H107.3v1H6zM6 509H97.7v1H6zM6 510H104v1H6zM6 511H119.4v1H6zM6 512H110v1H6zM6 513H91.1v1H6zM6 514H94.3v1H6zM6 515H92.1v1H6zM6 516H110.7v1H6zM6 517H105.1v1H6zM6 518H107.9v1H6zM6 519H81.9v1H6zM6 520H79.4v1H6zM6 521H72.8v1H6zM6 522H74.4v1H6zM6 523H66.5v1H6zM6 524H76v1H6zM6 525H72.8v1H6zM6 526H64.1v1H6zM6 527H57.2v1H6zM6 528H60.8v1H6zM6 529H48.3v1H6zM6 530H44v1H6zM6 531H42.9v1H6zM6 532H48v1H6zM6 533H51.5v1H6zM6 534H53.7v1H6zM6 535H66.1v1H6zM6 536H66.8v1H6zM6 537H77.4v1H6zM6 538H85.9v1H6zM6 539H106.2v1H6zM6 540H111.7v1H6z" fill="#4169e1" fill-opacity="0.87" shape-rendering="crispEdges"/>
<path d="M18.8 69H20.7v1H18.8zM26 70H26.6v1H26zM35.3 71H38.3v1H35.3zM44.5 72H46.7v1H44.5zM44.9 73H48v1H44.9zM45.2 74H47.9v1H45.2zM43.4 75H46v1H43.4zM29.4 76H32.6v1H29.4zM21.1 77H21.8v1H21.1zM24.1 78H24.8v1H24.1zM26 79H28.7v1H26zM25.2 80H27.6v1H25.2zM25.4 81H27.2v1H25.4zM33 82H37.6v1H33zM40.1 83H60.5v1H40.1zM43.8 84H46.3v1H43.8zM32 85H34.7v1H32zM27.4 86H31.1v1H27.4zM36.9 87H39.9v1H36.9zM37.9 88H42.6v1H37.9zM53.3 89H59.3v1H53.3zM67 90H71.8v1H67zM57.3 91H65.7v1H57.3zM53 92H59.8v1H53zM66.8 93H72.6v1H66.8zM81.5 94H90.4v1H81.5zM55.7 95H60.6v1H55.7zM42.8 96H45.2v1H42.8zM35.8 97H38v1H35.8zM33.9 98H38.4v1H33.9zM36.3 99H37.9v1H36.3zM37.2 100H39.6v1H37.2zM42.7 101H44.6v1H42.7zM50.3 102H52.8v1H50.3zM51.2 103H57.7v1H51.2zM54.7 104H63.7v1H54.7zM67.3 105H72.7v1H67.3zM76.3 106H87.1v1H76.3zM86.2 107H93.8v1H86.2zM88.3 108H98.7v1H88.3zM86.6 109H91.4v1H86.6zM96.6 110H99.8v1H96.6zM118.2 111H135.4v1H118.2zM124 112H136.3v1H124zM140.3 113H153.6v1H140.3zM152.6 114H170.4v1H152.6zM161.2 115H183.6v1H161.2zM187.8 116H204.9v1H187.8zM204.3 117H233.3v1H204.3zM240.4 118H255.3v1H240.4zM222.9 119H259.5v1H222.9zM225.8 120H256.1v1H225.8zM248.4 121H281v1H248.4zM219.1 122H239.9v1H219.1zM200.1 123H224.5v1H200.1zM177 124H192.8v1H177zM160.2 125H181.8v1H160.2zM158.6 126H168.7v1H158.6zM121.7 127H133v1H121.7zM115.4 128H125.3v1H115.4zM140.1 129H164v1H140.1zM144.9 130H163v1H144.9zM164.5 131H178.4v1H164.5zM117.3 132H163.4v1H117.3zM112.5 133H118.2v1H112.5zM119.2 134H139.5v1H119.2zM159.8 135H166.7v1H159.8zM169.2 136H187.4v1H169.2zM183.9 137H203v1H183.9zM234.6 138H271.1v1H234.6zM234.4 139H255.1v1H234.4zM232.9 140H246.7v1H232.9zM236.6 141H256.9v1H236.6zM281.3 142H294.6v1H281.3zM293.7 143H334.2v1H293.7zM277.8 144H323.4v1H277.8zM259.7 145H283.1v1H259.7zM231.1 146H249.5v1H231.1zM213.9 147H226.9v1H213.9zM182.1 148H213.7v1H182.1zM197.3 149H209.2v1H197.3zM191.8 150H208.2v1H191.8zM178 151H186.5v1H178zM149.5 152H171.9v1H149.5zM155.3 153H170.3v1H155.3zM139.5 154H147.9v1H139.5zM136.4 155H147.1v1H136.4zM124.5 156H143.2v1H124.5zM121.3 157H132.8v1H121.3zM103.8 158H114.8v1H103.8zM79.9 159H91.7v1H79.9zM75.2 160H86.5v1H75.2zM85.8 161H92.6v1H85.8zM108.4 162H117.9v1H108.4zM139.1 163H143.3v1H139.1zM103.2 164H110.2v1H103.2zM91.4 165H97.8v1H91.4zM105.8 166H115.1v1H105.8zM133.3 167H150v1H133.3zM139.8 168H163.5v1H139.8zM144.1 169H149.5v1H144.1zM125 170H145.7v1H125zM119.2 171H124.9v1H119.2zM113.6 172H135.5v1H113.6zM107.9 173H126.4v1H107.9zM133.6 174H142.1v1H133.6zM107.2 175H112.3v1H107.2zM78.4 176H89.3v1H78.4zM84.7 177H88.9v1H84.7zM68.3 178H77.9v1H68.3zM57.4 179H66.2v1H57.4zM60.2 180H68.4v1H60.2zM67.9 181H78.5v1H67.9zM67.1 182H77v1H67.1zM52.7 183H59.1v1H52.7zM51.3 184H57.8v1H51.3zM60.7 185H69.9v1H60.7zM72 186H76.6v1H72zM73.4 187H76.8v1H73.4zM71.7 188H74.3v1H71.7zM71.5 189H74.9v1H71.5zM64 190H70.1v1H64zM46.1 191H73.8v1H46.1zM33.2 192H35.9v1H33.2zM26.8 193H29.6v1H26.8zM26.6 194H28.4v1H26.6zM36.5 195H42.1v1H36.5zM48.3 196H53.7v1H48.3zM66.5 197H68.6v1H66.5zM73.8 198H82.9v1H73.8zM78.8 199H84.5v1H78.8zM98.7 200H108.6v1H98.7zM120.1 201H170.7v1H120.1zM116.5 202H130.3v1H116.5zM142.3 203H164.8v1H142.3zM153.8 204H168.7v1H153.8zM144.2 205H164.9v1H144.2zM173.1 206H188.9v1H173.1zM189.9 207H210.7v1H189.9zM184.3 208H197.4v1H184.3zM210.8 209H229.2v1H210.8zM235.4 210H251.4v1H235.4zM235 211H277.5v1H235zM183.6 212H210.8v1H183.6zM181.4 213H194.9v1H181.4zM209.6 214H233.8v1H209.6zM203.4 215H264.5v1H203.4zM243.7 216H284.1v1H243.7zM260.3 217H269.9v1H260.3zM269.7 218H278v1H269.7zM268.2 219H314.4v1H268.2zM264.3 220H298v1H264.3zM251.4 221H294.1v1H251.4zM245.2 222H274.8v1H245.2zM258.5 223H293.1v1H258.5zM298.7 224H338v1H298.7zM326.7 225H369.1v1H326.7zM355.6 226H407.5v1H355.6zM354.4 227H406.9v1H354.4zM264.7 228H309.9v1H264.7zM335.5 229H363.4v1H335.5zM274 230H314.9v1H274zM261.7 231H279v1H261.7zM324.4 232H354v1H324.4zM394.8 233H431.4v1H394.8zM379.2 234H472v1H379.2zM496.1 235H513.9v1H496.1zM421.6 236H486.7v1H421.6zM418.4 237H490.8v1H418.4zM460 238H474.9v1H460zM371.5 239H415.2v1H371.5zM440.6 240H521.9v1H440.6zM369.5 241H402.7v1H369.5zM363.5 242H409.4v1H363.5zM366.7 243H393.7v1H366.7zM320.9 244H363.4v1H320.9zM319.2 245H376.9v1H319.2zM338.3 246H393.8v1H338.3zM402 247H415.2v1H402zM399.5 248H425.3v1H399.5zM436.2 249H493.7v1H436.2zM401.7 250H457.1v1H401.7zM405 251H461.9v1H405zM394.2 252H443v1H394.2zM514.8 253H565.1v1H514.8zM570.6 254H608.6v1H570.6zM584 255H673.7v1H584zM607.2 256H685v1H607.2zM658.9 257H686.4v1H658.9zM660.7 258H754.1v1H660.7zM630.3 259H733.6v1H630.3zM664.1 260H689.9v1H664.1zM555.4 261H619.7v1H555.4zM544.6 262H616.7v1H544.6zM484.7 263H558.5v1H484.7zM454 264H511.5v1H454zM463.6 265H505.8v1H463.6zM401.9 266H462.2v1H401.9zM357.2 267H410.6v1H357.2zM356.5 268H421.3v1H356.5zM291.7 269H331.2v1H291.7zM298 270H321.1v1H298zM265.1 271H313.4v1H265.1zM236.9 272H264.9v1H236.9zM243.8 273H266.1v1H243.8zM263 274H285.1v1H263zM267.1 275H298.8v1H267.1zM244 276H281.1v1H244zM187.8 277H193.4v1H187.8zM169.1 278H184.2v1H169.1zM179.9 279H207.3v1H179.9zM199.5 280H206.6v1H199.5zM173 281H199.2v1H173zM159.9 282H177.8v1H159.9zM158.1 283H183v1H158.1zM166.5 284H188.2v1H166.5zM173.5 285H187.1v1H173.5zM161.7 286H179.4v1H161.7zM153.1 287H161.8v1H153.1zM124.6 288H145.8v1H124.6zM134.6 289H150.3v1H134.6zM148.6 290H162.8v1H148.6zM168.5 291H179.4v1H168.5zM200 292H229.8v1H200zM223.7 293H233.1v1H223.7zM207.2 294H237.3v1H207.2zM253.1 295H282.2v1H253.1zM235.9 296H274.9v1H235.9zM249 297H273.7v1H249zM273.3 298H288.8v1H273.3zM257.4 299H271.6v1H257.4zM263.6 300H285.1v1H263.6zM171.7 301H186.6v1H171.7zM185.4 302H234.6v1H185.4zM231.2 303H250.4v1H231.2zM220.1 304H247.1v1H220.1zM253.3 305H266.4v1H253.3zM240.2 306H259.1v1H240.2zM274.7 307H323.5v1H274.7zM247.6 308H287.8v1H247.6zM262.3 309H291.9v1H262.3zM231.1 310H265.1v1H231.1zM236.2 311H277.7v1H236.2zM259.3 312H299.3v1H259.3zM284.4 313H317.6v1H284.4zM343.8 314H362.9v1H343.8zM334 315H346.4v1H334zM286 316H332.8v1H286zM262.9 317H309.3v1H262.9zM293.8 318H305.3v1H293.8zM303.3 319H329.7v1H303.3zM243.8 320H287.4v1H243.8zM306.5 321H341.1v1H306.5zM278.3 322H328v1H278.3zM280.5 323H304.8v1H280.5zM270.4 324H284.6v1H270.4zM216.3 325H256v1H216.3zM226.4 326H234.4v1H226.4zM193.5 327H208.8v1H193.5zM161.1 328H187.9v1H161.1zM251.9 329H261.1v1H251.9zM203.4 330H230.9v1H203.4zM197.4 331H245.9v1H197.4zM198.6 332H226.9v1H198.6zM191.4 333H216.1v1H191.4zM209.1 334H233.4v1H209.1zM253.7 335H265v1H253.7zM265.8 336H283.4v1H265.8zM217.1 337H238.6v1H217.1zM231 338H245.6v1H231zM215 339H274v1H215zM205.4 340H254.7v1H205.4zM174.3 341H184.8v1H174.3zM141.1 342H163.6v1H141.1zM190.2 343H199.5v1H190.2zM179.9 344H187.7v1H179.9zM172 345H198.9v1H172zM211.3 346H231.4v1H211.3zM194.7 347H224.7v1H194.7zM180.5 348H202.5v1H180.5zM214.3 349H258.2v1H214.3zM175.8 350H195.1v1H175.8zM168.8 351H196v1H168.8zM158.7 352H172.6v1H158.7zM191.9 353H204.9v1H191.9zM167.3 354H180.1v1H167.3zM171.3 355H188.4v1H171.3zM125.9 356H146.7v1H125.9zM132.6 357H192.9v1H132.6zM141.4 358H159.3v1H141.4zM137 359H150.3v1H137zM146 360H155.4v1H146zM110.3 361H119v1H110.3zM127.8 362H150.9v1H127.8zM198.7 363H207.3v1H198.7zM176.7 364H237.3v1H176.7zM178.8 365H191.4v1H178.8zM175.3 366H180.9v1H175.3zM166.6 367H179.5v1H166.6zM182.2 368H187.7v1H182.2zM142.8 369H157.8v1H142.8zM154.5 370H168.6v1H154.5zM137.2 371H145.3v1H137.2zM152.5 372H159.9v1H152.5zM136.8 373H156.4v1H136.8zM139.1 374H147v1H139.1zM134.4 375H139.9v1H134.4zM120.5 376H132.5v1H120.5zM121.2 377H128.1v1H121.2zM115.3 378H130.5v1H115.3zM92.2 379H102.4v1H92.2zM102.6 380H106.5v1H102.6zM110.9 381H120.4v1H110.9zM170.8 382H177.2v1H170.8zM157.2 383H169.2v1H157.2zM208.1 384H241.7v1H208.1zM201.8 385H208.3v1H201.8zM203.3 386H223.3v1H203.3zM159.6 387H170.3v1H159.6zM159.6 388H184.2v1H159.6zM174.9 389H184v1H174.9zM164.7 390H208.4v1H164.7zM151 391H165v1H151zM177.5 392H185.7v1H177.5zM134.6 393H154.9v1H134.6zM151.1 394H162.3v1H151.1zM133.7 395H144.7v1H133.7zM171.1 396H177.6v1H171.1zM123.5 397H144.9v1H123.5zM161.6 398H178.2v1H161.6zM135.5 399H188.8v1H135.5zM147 400H155.8v1H147zM117.5 401H122.5v1H117.5zM101.9 402H128.1v1H101.9zM97.3 403H109.9v1H97.3zM108 404H111.4v1H108zM90 405H99.8v1H90zM81.4 406H91.8v1H81.4zM80.3 407H92.7v1H80.3zM81.9 408H84.8v1H81.9zM64.5 409H70.6v1H64.5zM73.8 410H78.6v1H73.8zM70.1 411H75.9v1H70.1zM52.7 412H58.3v1H52.7zM47.6 413H49.7v1H47.6zM70.8 414H80.2v1H70.8zM51.5 415H58.7v1H51.5zM62.3 416H67.2v1H62.3zM58.9 417H67.5v1H58.9zM43.6 418H46.9v1H43.6zM34.4 419H38.7v1H34.4zM47.1 420H49.8v1H47.1zM46.6 421H50.4v1H46.6zM51.9 422H59.1v1H51.9zM44.5 423H50.5v1H44.5zM62.6 424H64.8v1H62.6zM65.6 425H76.5v1H65.6zM58.8 426H62.4v1H58.8zM61.6 427H68.6v1H61.6zM49.1 428H75.4v1H49.1zM51.5 429H68.7v1H51.5zM61.8 430H72.1v1H61.8zM42.6 431H49.2v1H42.6zM32.1 432H36.2v1H32.1zM28.9 433H44.8v1H28.9zM34.7 434H36.6v1H34.7zM32.8 435H34.7v1H32.8zM39.9 436H45.8v1H39.9zM48.5 437H51.3v1H48.5zM48 438H51.9v1H48zM52.8 439H56.1v1H52.8zM50.1 440H55.7v1H50.1zM58.1 441H64.4v1H58.1zM63.3 442H69.4v1H63.3zM73.1 443H79.8v1H73.1zM85.4 444H89.5v1H85.4zM96.9 445H101.4v1H96.9zM97.4 446H105.6v1H97.4zM85.5 447H90.7v1H85.5zM76.7 448H84.7v1H76.7zM84.2 449H93.8v1H84.2zM100.4 450H112.6v1H100.4zM98.5 451H111.4v1H98.5zM96.9 452H107.1v1H96.9zM86.4 453H94.4v1H86.4zM75.3 454H79.8v1H75.3zM92.3 455H101.5v1H92.3zM72.7 456H99.9v1H72.7zM75.1 457H86.5v1H75.1zM80.5 458H89v1H80.5zM92.7 459H99v1H92.7zM96.5 460H103.1v1H96.5zM81.3 461H121v1H81.3zM79.1 462H106.5v1H79.1zM68.8 463H74.8v1H68.8zM64.7 464H67.5v1H64.7zM46.1 465H53.4v1H46.1zM31.8 466H33.1v1H31.8zM28.6 467H30.4v1H28.6zM31.2 468H34.3v1H31.2zM33 469H37.2v1H33zM41.8 470H47v1H41.8zM48.5 471H54.8v1H48.5zM37.9 472H42.7v1H37.9zM37.1 473H42.5v1H37.1zM32.1 474H50.1v1H32.1zM34.6 475H38v1H34.6zM26.5 476H30.3v1H26.5zM22.1 477H23.6v1H22.1zM19.6 478H21.9v1H19.6zM19.5 479H20.6v1H19.5zM23.5 480H25.3v1H23.5zM25.9 481H27.4v1H25.9zM29.1 482H31.7v1H29.1zM37.6 483H40v1H37.6zM40.1 484H45.7v1H40.1zM41.3 485H44.7v1H41.3zM48.7 486H51.9v1H48.7zM56.9 487H62.9v1H56.9zM70.8 488H73.6v1H70.8zM76.9 489H82.4v1H76.9zM53.4 490H61v1H53.4zM55.4 491H58.4v1H55.4zM48.5 492H65.5v1H48.5zM45.1 493H49.6v1H45.1zM33.2 494H37.9v1H33.2zM22.9 495H24.8v1H22.9zM21.6 496H23.2v1H21.6zM26.9 497H29.7v1H26.9zM34.5 498H36.9v1H34.5zM42.1 499H45.1v1H42.1zM44.6 500H49.7v1H44.6zM57.7 501H60v1H57.7zM67.3 502H72.8v1H67.3zM75.9 503H84.1v1H75.9zM153.2 504H180.3v1H153.2zM184.2 505H201.3v1H184.2zM145.4 506H171.8v1H145.4zM127.6 507H140.9v1H127.6zM107.3 508H112.9v1H107.3zM97.7 509H114.8v1H97.7zM104 510H114.5v1H104zM119.4 511H138.8v1H119.4zM110 512H126.5v1H110zM91.1 513H105.6v1H91.1zM94.3 514H98.9v1H94.3zM92.1 515H101.3v1H92.1zM110.7 516H116.7v1H110.7zM105.1 517H117.5v1H105.1zM107.9 518H116.3v1H107.9zM81.9 519H112.7v1H81.9zM79.4 520H90.6v1H79.4zM72.8 521H99.6v1H72.8zM74.4 522H85.5v1H74.4zM66.5 523H74.5v1H66.5zM76 524H83.4v1H76zM72.8 525H77.4v1H72.8zM64.1 526H70.5v1H64.1zM57.2 527H63.2v1H57.2zM60.8 528H63.4v1H60.8zM48.3 529H54.6v1H48.3zM44 530H45.7v1H44zM42.9 531H46.9v1H42.9zM48 532H53.2v1H48zM51.5 533H74.6v1H51.5zM53.7 534H57.4v1H53.7zM66.1 535H71v1H66.1zM66.8 536H71v1H66.8zM77.4 537H89.7v1H77.4zM85.9 538H92.4v1H85.9zM106.2 539H151.5v1H106.2zM111.7 540H124.2v1H111.7z" fill="#4169e1" fill-opacity="0.435" shape-rendering="crispEdges"/>
<path d="M6 541H209.3v1H6zM6 542H204v1H6zM6 543H207.5v1H6zM6 544H224.9v1H6zM6 545H214.2v1H6zM6 546H214v1H6zM6 547H228.4v1H6zM6 548H213v1H6zM6 549H208v1H6zM6 550H223.2v1H6zM6 551H243.7v1H6zM6 552H244v1H6zM6 553H238.3v1H6zM6 554H304.4v1H6zM6 555H358v1H6zM6 556H314.8v1H6zM6 557H293v1H6zM6 558H272.4v1H6zM6 559H258.8v1H6zM6 560H254.4v1H6zM6 561H263.4v1H6zM6 562H277.5v1H6zM6 563H259.8v1H6zM6 564H243.3v1H6zM6 565H232.5v1H6zM6 566H243v1H6zM6 567H238v1H6zM6 568H229.3v1H6zM6 569H231.9v1H6zM6 570H238.2v1H6zM6 571H242.6v1H6zM6 572H279.7v1H6zM6 573H313.4v1H6zM6 574H317.4v1H6zM6 575H408.5v1H6zM6 576H360.7v1H6zM6 577H382.5v1H6zM6 578H365.1v1H6zM6 579H358.3v1H6zM6 580H338.1v1H6zM6 581H306.6v1H6zM6 582H288.9v1H6zM6 583H293.4v1H6zM6 584H287.8v1H6zM6 585H295.3v1H6zM6 586H315.6v1H6zM6 587H344.9v1H6zM6 588H380v1H6zM6 589H378.4v1H6zM6 590H366.8v1H6zM6 591H341.9v1H6zM6 592H349.8v1H6zM6 593H296.6v1H6zM6 594H325.4v1H6zM6 595H321v1H6zM6 596H299.3v1H6zM6 597H341.2v1H6zM6 598H331.3v1H6z" fill="#4169e1" fill-opacity="0.87" shape-rendering="crispEdges"/>
<path d="M209.3 541H211.5v1H209.3zM204 542H204.8v1H204zM207.5 543H217.4v1H207.5zM224.9 544H224.1v1H224.9zM214.2 545H229.3v1H214.2zM214 546H233v1H214zM228.4 547H227.7v1H228.4zM213 548H212.4v1H213zM208 549H214.8v1H208zM223.2 550H225.3v1H223.2zM243.7 551H238.4v1H243.7zM244 552H244.4v1H244zM238.3 553H244.6v1H238.3zM304.4 554H303.2v1H304.4zM358 555H338.6v1H358zM314.8 556H323v1H314.8zM293 557H316.7v1H293zM272.4 558H318.3v1H272.4zM258.8 559H270.7v1H258.8zM254.4 560H265.1v1H254.4zM263.4 561H269.5v1H263.4zM277.5 562H283.5v1H277.5zM259.8 563H267.8v1H259.8zM243.3 564H252.8v1H243.3zM232.5 565H264.5v1H232.5zM243 566H265.5v1H243zM238 567H263.3v1H238zM229.3 568H256.4v1H229.3zM231.9 569H239.5v1H231.9zM238.2 570H260.6v1H238.2zM242.6 571H265v1H242.6zM279.7 572H280.8v1H279.7zM313.4 573H311.7v1H313.4zM317.4 574H350.8v1H317.4zM408.5 575H426.5v1H408.5zM360.7 576H371.2v1H360.7zM382.5 577H386.6v1H382.5zM365.1 578H394.4v1H365.1zM358.3 579H368.3v1H358.3zM338.1 580H367v1H338.1zM306.6 581H348.1v1H306.6zM288.9 582H296.3v1H288.9zM293.4 583H301.4v1H293.4zM287.8 584H322.2v1H287.8zM295.3 585H315.7v1H295.3zM315.6 586H365.4v1H315.6zM344.9 587H359.8v1H344.9zM380 588H385v1H380zM378.4 589H382.9v1H378.4zM366.8 590H392.5v1H366.8zM341.9 591H438.8v1H341.9zM349.8 592H401.6v1H349.8zM296.6 593H311.8v1H296.6zM325.4 594H348.1v1H325.4zM321 595H340.7v1H321zM299.3 596H329.3v1H299.3zM341.2 597H379.2v1H341.2zM331.3 598H361v1H331.3z" fill="#4169e1" fill-opacity="0.435" shape-rendering="crispEdges"/>
<path d="M6 599H398.9v1H6zM6 600H507.2v1H6zM6 601H523.5v1H6zM6 602H533.4v1H6zM6 603H490.9v1H6zM6 604H530.2v1H6zM6 605H532.7v1H6zM6 606H464v1H6zM6 607H454.1v1H6zM6 608H491v1H6zM6 609H485.1v1H6zM6 610H479.3v1H6zM6 611H505.3v1H6zM6 612H515v1H6zM6 613H538.4v1H6zM6 614H524.2v1H6zM6 615H533.9v1H6zM6 616H489.4v1H6zM6 617H542.3v1H6zM6 618H551.4v1H6zM6 619H609.8v1H6zM6 620H585.8v1H6zM6 621H594.4v1H6zM6 622H519.4v1H6zM6 623H479.4v1H6zM6 624H454.3v1H6zM6 625H499.6v1H6zM6 626H491.5v1H6zM6 627H451.2v1H6zM6 628H495.7v1H6zM6 629H463.8v1H6zM6 630H497.1v1H6zM6 631H438.6v1H6zM6 632H497.5v1H6zM6 633H445.1v1H6zM6 634H408.9v1H6zM6 635H380.9v1H6zM6 636H368.2v1H6zM6 637H324.7v1H6zM6 638H249.1v1H6zM6 639H228.8v1H6zM6 640H308.8v1H6zM6 641H338.2v1H6zM6 642H410.9v1H6zM6 643H431.4v1H6zM6 644H440v1H6zM6 645H435.9v1H6zM6 646H436.3v1H6zM6 647H410.2v1H6zM6 648H398.8v1H6zM6 649H398.3v1H6zM6 650H390.9v1H6zM6 651H338.6v1H6zM6 652H278.6v1H6zM6 653H271.8v1H6zM6 654H260.7v1H6zM6 655H257.7v1H6zM6 656H251.5v1H6zM6 657H252.1v1H6zM6 658H271.8v1H6zM6 659H271v1H6zM6 660H268.2v1H6zM6 661H266.6v1H6zM6 662H272.9v1H6zM6 663H283.3v1H6zM6 664H275.3v1H6zM6 665H237.7v1H6zM6 666H232.7v1H6zM6 667H226.9v1H6zM6 668H221.5v1H6zM6 669H215.7v1H6zM6 670H233.7v1H6zM6 671H242.7v1H6zM6 672H242.5v1H6zM6 673H242v1H6zM6 674H239.9v1H6zM6 675H238.8v1H6zM6 676H246v1H6zM6 677H236.8v1H6zM6 678H223.9v1H6zM6 679H256v1H6zM6 680H305v1H6zM6 681H296.9v1H6zM6 682H310.4v1H6zM6 683H293.2v1H6zM6 684H289.3v1H6zM6 685H288.4v1H6zM6 686H250.4v1H6zM6 687H231.2v1H6zM6 688H214.3v1H6zM6 689H228.2v1H6zM6 690H197.6v1H6zM6 691H217.1v1H6zM6 692H202.4v1H6zM6 693H197.8v1H6zM6 694H207.8v1H6zM6 695H194.4v1H6zM6 696H171.1v1H6zM6 697H181.3v1H6zM6 698H153.2v1H6zM6 699H161.1v1H6zM6 700H146.3v1H6zM6 701H149.6v1H6zM6 702H154.4v1H6zM6 703H159.3v1H6zM6 704H189v1H6zM6 705H214v1H6zM6 706H211.5v1H6zM6 707H205.4v1H6zM6 708H199.3v1H6zM6 709H207.4v1H6zM6 710H207.4v1H6zM6 711H163.9v1H6zM6 712H154.8v1H6zM6 713H139.7v1H6zM6 714H124.9v1H6zM6 715H117.5v1H6zM6 716H112.4v1H6zM6 717H101.3v1H6zM6 718H110.9v1H6zM6 719H92.5v1H6zM6 720H81v1H6zM6 721H75.2v1H6zM6 722H66.1v1H6zM6 723H64.4v1H6zM6 724H96.7v1H6zM6 725H120.7v1H6zM6 726H116.1v1H6zM6 727H128.5v1H6zM6 728H144.4v1H6zM6 729H122.5v1H6zM6 730H144v1H6zM6 731H114.7v1H6zM6 732H114.8v1H6zM6 733H114.1v1H6zM6 734H103.3v1H6zM6 735H105.2v1H6zM6 736H96.7v1H6zM6 737H102v1H6zM6 738H87.3v1H6zM6 739H77.6v1H6zM6 740H75.7v1H6zM6 741H80.5v1H6zM6 742H74v1H6zM6 743H86.8v1H6zM6 744H88.6v1H6zM6 745H96.6v1H6zM6 746H86.3v1H6zM6 747H82.5v1H6zM6 748H73.7v1H6zM6 749H73v1H6zM6 750H66.9v1H6zM6 751H63.6v1H6zM6 752H70.1v1H6zM6 753H66.5v1H6zM6 754H59.1v1H6zM6 755H58.5v1H6zM6 756H36.2v1H6zM6 757H34.3v1H6zM6 758H28.8v1H6zM6 759H31.1v1H6zM6 760H26.1v1H6zM6 761H25.9v1H6zM6 762H22.6v1H6zM6 763H27v1H6zM6 764H28.9v1H6zM6 765H31.9v1H6zM6 766H38.4v1H6zM6 767H40.9v1H6zM6 768H45.9v1H6zM6 769H52.5v1H6zM6 770H52.4v1H6zM6 771H45.9v1H6zM6 772H46.1v1H6zM6 773H33.5v1H6zM6 774H29v1H6zM6 775H25.2v1H6zM6 776H23.7v1H6zM6 777H21.2v1H6zM6 778H22v1H6zM6 779H22.3v1H6zM6 780H22.5v1H6zM6 781H28.3v1H6zM6 782H34.4v1H6zM6 783H35.6v1H6zM6 784H35.3v1H6zM6 785H35v1H6zM6 786H24.1v1H6zM6 787H23.4v1H6zM6 788H22.8v1H6zM6 789H21.7v1H6zM6 790H19.9v1H6zM6 791H18.2v1H6zM6 792H18.1v1H6zM6 793H16.6v1H6zM6 794H17.8v1H6zM6 795H15.5v1H6zM6 796H15.2v1H6zM6 797H15.2v1H6zM6 798H14.6v1H6zM6 799H13.9v1H6zM6 800H12.8v1H6zM6 801H11.9v1H6z" fill="#808080" fill-opacity="0.87" shape-rendering="crispEdges"/>
<path d="M398.9 599H446.6v1H398.9zM507.2 600H571.9v1H507.2zM523.5 601H597.7v1H523.5zM533.4 602H597.3v1H533.4zM490.9 603H566.7v1H490.9zM530.2 604H572.3v1H530.2zM532.7 605H563.1v1H532.7zM464 606H540.9v1H464zM454.1 607H533.2v1H454.1zM491 608H528.9v1H491zM485.1 609H546.9v1H485.1zM479.3 610H542.8v1H479.3zM505.3 611H524.7v1H505.3zM515 612H534v1H515zM538.4 613H580.6v1H538.4zM524.2 614H586.7v1H524.2zM533.9 615H623.9v1H533.9zM489.4 616H545.1v1H489.4zM542.3 617H563v1H542.3zM551.4 618H628.7v1H551.4zM609.8 619H636.4v1H609.8zM585.8 620H615.4v1H585.8zM594.4 621H620v1H594.4zM519.4 622H567.1v1H519.4zM479.4 623H535.8v1H479.4zM454.3 624H512.8v1H454.3zM499.6 625H538.5v1H499.6zM491.5 626H524.5v1H491.5zM451.2 627H517.3v1H451.2zM495.7 628H532.7v1H495.7zM463.8 629H549.2v1H463.8zM497.1 630H531.9v1H497.1zM438.6 631H516.3v1H438.6zM497.5 632H513.3v1H497.5zM445.1 633H502.2v1H445.1zM408.9 634H442.6v1H408.9zM380.9 635H404.7v1H380.9zM368.2 636H396.3v1H368.2zM324.7 637H337.2v1H324.7zM249.1 638H276.7v1H249.1zM228.8 639H268.8v1H228.8zM308.8 640H324.5v1H308.8zM338.2 641H386v1H338.2zM410.9 642H465.6v1H410.9zM431.4 643H459.2v1H431.4zM440 644H485.5v1H440zM435.9 645H470.6v1H435.9zM436.3 646H478.7v1H436.3zM410.2 647H480.1v1H410.2zM398.8 648H483.7v1H398.8zM398.3 649H433.5v1H398.3zM390.9 650H406v1H390.9zM338.6 651H368.8v1H338.6zM278.6 652H327.7v1H278.6zM271.8 653H288.5v1H271.8zM260.7 654H278.1v1H260.7zM257.7 655H273.8v1H257.7zM251.5 656H287.8v1H251.5zM252.1 657H270.2v1H252.1zM271.8 658H288.2v1H271.8zM271 659H285v1H271zM268.2 660H312v1H268.2zM266.6 661H304.7v1H266.6zM272.9 662H292v1H272.9zM283.3 663H311.7v1H283.3zM275.3 664H289.8v1H275.3zM237.7 665H265.7v1H237.7zM232.7 666H259.4v1H232.7zM226.9 667H240.3v1H226.9zM221.5 668H239.5v1H221.5zM215.7 669H250.5v1H215.7zM233.7 670H271.5v1H233.7zM242.7 671H271.7v1H242.7zM242.5 672H323.6v1H242.5zM242 673H254.3v1H242zM239.9 674H250.3v1H239.9zM238.8 675H270.2v1H238.8zM246 676H265.3v1H246zM236.8 677H269.2v1H236.8zM223.9 678H280.1v1H223.9zM256 679H294.3v1H256zM305 680H315.9v1H305zM296.9 681H315.6v1H296.9zM310.4 682H364v1H310.4zM293.2 683H315.2v1H293.2zM289.3 684H302.9v1H289.3zM288.4 685H302.6v1H288.4zM250.4 686H264.1v1H250.4zM231.2 687H242.9v1H231.2zM214.3 688H236.2v1H214.3zM228.2 689H246.5v1H228.2zM197.6 690H231.3v1H197.6zM217.1 691H230v1H217.1zM202.4 692H235.7v1H202.4zM197.8 693H211.2v1H197.8zM207.8 694H231.1v1H207.8zM194.4 695H214.5v1H194.4zM171.1 696H189.9v1H171.1zM181.3 697H187v1H181.3zM153.2 698H172.3v1H153.2zM161.1 699H178.6v1H161.1zM146.3 700H172.6v1H146.3zM149.6 701H169.8v1H149.6zM154.4 702H165.8v1H154.4zM159.3 703H187.8v1H159.3zM189 704H205v1H189zM214 705H224.7v1H214zM211.5 706H218v1H211.5zM205.4 707H240.6v1H205.4zM199.3 708H223.1v1H199.3zM207.4 709H220.6v1H207.4zM207.4 710H216.9v1H207.4zM163.9 711H187.8v1H163.9zM154.8 712H160.4v1H154.8zM139.7 713H150.1v1H139.7zM124.9 714H138.3v1H124.9zM117.5 715H170v1H117.5zM112.4 716H129.9v1H112.4zM101.3 717H112.8v1H101.3zM110.9 718H117.6v1H110.9zM92.5 719H105v1H92.5zM81 720H91.4v1H81zM75.2 721H82.7v1H75.2zM66.1 722H74.1v1H66.1zM64.4 723H71.8v1H64.4zM96.7 724H102.3v1H96.7zM120.7 725H128.6v1H120.7zM116.1 726H127.2v1H116.1zM128.5 727H141.8v1H128.5zM144.4 728H153.1v1H144.4zM122.5 729H143.1v1H122.5zM144 730H159.1v1H144zM114.7 731H131.7v1H114.7zM114.8 732H120.8v1H114.8zM114.1 733H124.8v1H114.1zM103.3 734H118.8v1H103.3zM105.2 735H142v1H105.2zM96.7 736H111.3v1H96.7zM102 737H106.6v1H102zM87.3 738H92.7v1H87.3zM77.6 739H83.5v1H77.6zM75.7 740H83.2v1H75.7zM80.5 741H83.8v1H80.5zM74 742H86.9v1H74zM86.8 743H94.6v1H86.8zM88.6 744H101.4v1H88.6zM96.6 745H101.3v1H96.6zM86.3 746H93.1v1H86.3zM82.5 747H87.5v1H82.5zM73.7 748H79.1v1H73.7zM73 749H75.3v1H73zM66.9 750H87.7v1H66.9zM63.6 751H71.7v1H63.6zM70.1 752H75.1v1H70.1zM66.5 753H76.2v1H66.5zM59.1 754H65.9v1H59.1zM58.5 755H61.6v1H58.5zM36.2 756H40.8v1H36.2zM34.3 757H50.5v1H34.3zM28.8 758H30.7v1H28.8zM31.1 759H32.9v1H31.1zM26.1 760H28.7v1H26.1zM25.9 761H27.5v1H25.9zM22.6 762H24.6v1H22.6zM27 763H28.2v1H27zM28.9 764H32.1v1H28.9zM31.9 765H35.3v1H31.9zM38.4 766H39.7v1H38.4zM40.9 767H43.9v1H40.9zM45.9 768H50.1v1H45.9zM52.5 769H83.4v1H52.5zM52.4 770H57v1H52.4zM45.9 771H52.4v1H45.9zM46.1 772H50.1v1H46.1zM33.5 773H36.1v1H33.5zM29 774H31.5v1H29zM25.2 775H27.8v1H25.2zM23.7 776H33.9v1H23.7zM21.2 777H23v1H21.2zM22 778H24.4v1H22zM22.3 779H23.4v1H22.3zM22.5 780H25.1v1H22.5zM28.3 781H29.3v1H28.3zM34.4 782H51.9v1H34.4zM35.6 783H39.7v1H35.6zM35.3 784H36.4v1H35.3zM35 785H37.6v1H35zM24.1 786H27.5v1H24.1zM23.4 787H26.3v1H23.4zM22.8 788H24.1v1H22.8zM21.7 789H22.3v1H21.7zM19.9 790H20.9v1H19.9zM18.2 791H19.1v1H18.2zM18.1 792H20v1H18.1zM16.6 793H17.8v1H16.6zM17.8 794H18.2v1H17.8zM15.5 795H17.1v1H15.5zM15.2 796H16.7v1H15.2zM15.2 797H20.2v1H15.2zM14.6 798H15.3v1H14.6zM13.9 799H14.8v1H13.9zM12.8 800H13.4v1H12.8zM11.9 801H12.2v1H11.9z" fill="#808080" fill-opacity="0.435" shape-rendering="crispEdges"/>
<path d="M1160 62H1162.2v1H1160zM1160 63H1163.7v1H1160zM1160 64H1164.9v1H1160zM1160 65H1167v1H1160zM1160 66H1168.4v1H1160zM1160 67H1169v1H1160zM1160 68H1169.9v1H1160zM1160 69H1171.2v1H1160zM1160 70H1173.3v1H1160zM1160 71H1174.4v1H1160zM1160 72H1177.4v1H1160zM1160 73H1177.3v1H1160zM1160 74H1178.4v1H1160zM1160 75H1180.1v1H1160zM1160 76H1176.5v1H1160zM1160 77H1177.1v1H1160zM1160 78H1176.5v1H1160zM1160 79H1176.8v1H1160zM1160 80H1174.2v1H1160zM1160 81H1173.7v1H1160zM1160 82H1173.6v1H1160zM1160 83H1172.3v1H1160zM1160 84H1174.1v1H1160zM1160 85H1172.9v1H1160zM1160 86H1174v1H1160zM1160 87H1174.3v1H1160zM1160 88H1175.8v1H1160zM1160 89H1178.5v1H1160zM1160 90H1179.8v1H1160zM1160 91H1181v1H1160zM1160 92H1180.6v1H1160zM1160 93H1181.6v1H1160zM1160 94H1181.5v1H1160zM1160 95H1179.9v1H1160zM1160 96H1177.8v1H1160zM1160 97H1176.8v1H1160zM1160 98H1174.6v1H1160zM1160 99H1175.5v1H1160zM1160 100H1175.8v1H1160zM1160 101H1175.2v1H1160zM1160 102H1173.2v1H1160zM1160 103H1174.3v1H1160zM1160 104H1173v1H1160zM1160 105H1176.1v1H1160zM1160 106H1177.9v1H1160zM1160 107H1177.4v1H1160zM1160 108H1180.6v1H1160zM1160 109H1183.8v1H1160zM1160 110H1187.5v1H1160zM1160 111H1195.4v1H1160zM1160 112H1198.2v1H1160zM1160 113H1200.7v1H1160zM1160 114H1208.6v1H1160zM1160 115H1212.1v1H1160zM1160 116H1216.1v1H1160zM1160 117H1218.9v1H1160zM1160 118H1230.8v1H1160zM1160 119H1233.5v1H1160zM1160 120H1237.7v1H1160zM1160 121H1235.7v1H1160zM1160 122H1245.6v1H1160zM1160 123H1245.2v1H1160zM1160 124H1236.9v1H1160zM1160 125H1232.9v1H1160zM1160 126H1230.4v1H1160zM1160 127H1227.1v1H1160zM1160 128H1225.2v1H1160zM1160 129H1212.7v1H1160zM1160 130H1222.5v1H1160zM1160 131H1219.9v1H1160zM1160 132H1215.4v1H1160zM1160 133H1217.9v1H1160zM1160 134H1217v1H1160zM1160 135H1223.3v1H1160zM1160 136H1225v1H1160zM1160 137H1231.9v1H1160zM1160 138H1236.4v1H1160zM1160 139H1231v1H1160zM1160 140H1241.2v1H1160zM1160 141H1232.5v1H1160zM1160 142H1228.2v1H1160zM1160 143H1221.9v1H1160zM1160 144H1220.4v1H1160zM1160 145H1217.3v1H1160zM1160 146H1211.5v1H1160zM1160 147H1216.3v1H1160zM1160 148H1210.9v1H1160zM1160 149H1219.2v1H1160zM1160 150H1221.3v1H1160zM1160 151H1223.9v1H1160zM1160 152H1231.2v1H1160zM1160 153H1229.3v1H1160zM1160 154H1224.8v1H1160zM1160 155H1230.8v1H1160zM1160 156H1229.6v1H1160zM1160 157H1215.8v1H1160zM1160 158H1211.1v1H1160zM1160 159H1204.8v1H1160zM1160 160H1200v1H1160zM1160 161H1195.8v1H1160zM1160 162H1192.6v1H1160zM1160 163H1191.9v1H1160zM1160 164H1188.8v1H1160zM1160 165H1184.5v1H1160zM1160 166H1186.3v1H1160zM1160 167H1181v1H1160zM1160 168H1178.8v1H1160zM1160 169H1177.8v1H1160zM1160 170H1178.2v1H1160zM1160 171H1176.5v1H1160zM1160 172H1175.7v1H1160zM1160 173H1173.8v1H1160zM1160 174H1175.3v1H1160zM1160 175H1171.6v1H1160zM1160 176H1171v1H1160zM1160 177H1168.5v1H1160zM1160 178H1167.9v1H1160zM1160 179H1165.4v1H1160zM1160 180H1164.2v1H1160zM1160 181H1163.8v1H1160zM1160 182H1163.1v1H1160zM1160 183H1162.6v1H1160zM1160 184H1162.5v1H1160zM1160 185H1162.2v1H1160zM1160 186H1162.1v1H1160zM1160 187H1161.7v1H1160zM1160 188H1161.8v1H1160zM1160 189H1161.4v1H1160zM1160 190H1161.6v1H1160zM1160 191H1161.5v1H1160zM1160 192H1161.8v1H1160zM1160 193H1161.7v1H1160zM1160 194H1161.9v1H1160zM1160 195H1162v1H1160zM1160 196H1162.3v1H1160zM1160 197H1162.4v1H1160zM1160 198H1162.2v1H1160zM1160 199H1162.5v1H1160zM1160 200H1162.7v1H1160zM1160 201H1162.5v1H1160zM1160 202H1162.8v1H1160zM1160 203H1163.3v1H1160zM1160 204H1163.2v1H1160zM1160 205H1163.2v1H1160zM1160 206H1163.5v1H1160zM1160 207H1163.5v1H1160zM1160 208H1163.7v1H1160zM1160 209H1164.1v1H1160zM1160 210H1164.3v1H1160zM1160 211H1164.2v1H1160zM1160 212H1163.7v1H1160zM1160 213H1164.7v1H1160zM1160 214H1165.2v1H1160zM1160 215H1165.6v1H1160zM1160 216H1166v1H1160zM1160 217H1165.8v1H1160zM1160 218H1166.1v1H1160zM1160 219H1166.1v1H1160zM1160 220H1165.5v1H1160zM1160 221H1165.7v1H1160zM1160 222H1165.5v1H1160zM1160 223H1165.3v1H1160zM1160 224H1165.6v1H1160zM1160 225H1165v1H1160zM1160 226H1164.7v1H1160zM1160 227H1165.1v1H1160zM1160 228H1164.7v1H1160zM1160 229H1165.1v1H1160zM1160 230H1165.6v1H1160zM1160 231H1165.3v1H1160zM1160 232H1166.8v1H1160zM1160 233H1166.8v1H1160zM1160 234H1171.8v1H1160zM1160 235H1174.8v1H1160zM1160 236H1180.3v1H1160zM1160 237H1185.2v1H1160zM1160 238H1192.6v1H1160zM1160 239H1194.4v1H1160zM1160 240H1196.1v1H1160zM1160 241H1199.5v1H1160zM1160 242H1189.9v1H1160zM1160 243H1198.7v1H1160zM1160 244H1196.9v1H1160zM1160 245H1198.4v1H1160zM1160 246H1203.7v1H1160zM1160 247H1206.3v1H1160zM1160 248H1213v1H1160zM1160 249H1207.6v1H1160zM1160 250H1209.2v1H1160zM1160 251H1219.7v1H1160z" fill="#808080" fill-opacity="0.87" shape-rendering="crispEdges"/>
<path d="M1162.2 62H1163.3v1H1162.2zM1163.7 63H1165.7v1H1163.7zM1164.9 64H1166.6v1H1164.9zM1167 65H1168.5v1H1167zM1168.4 66H1172v1H1168.4zM1169 67H1174.3v1H1169zM1169.9 68H1177.1v1H1169.9zM1171.2 69H1175.6v1H1171.2zM1173.3 70H1177.5v1H1173.3zM1174.4 71H1180.9v1H1174.4zM1177.4 72H1178.5v1H1177.4zM1177.3 73H1185.6v1H1177.3zM1178.4 74H1186.4v1H1178.4zM1180.1 75H1188.6v1H1180.1zM1176.5 76H1186.2v1H1176.5zM1177.1 77H1181v1H1177.1zM1176.5 78H1178.4v1H1176.5zM1176.8 79H1183.1v1H1176.8zM1174.2 80H1175.4v1H1174.2zM1173.7 81H1179.6v1H1173.7zM1173.6 82H1178v1H1173.6zM1172.3 83H1174.6v1H1172.3zM1174.1 84H1175.1v1H1174.1zM1172.9 85H1173.5v1H1172.9zM1174 86H1179v1H1174zM1174.3 87H1176.8v1H1174.3zM1175.8 88H1178.7v1H1175.8zM1178.5 89H1183.3v1H1178.5zM1179.8 90H1183.5v1H1179.8zM1181 91H1189.2v1H1181zM1180.6 92H1192v1H1180.6zM1181.6 93H1187.6v1H1181.6zM1181.5 94H1196.8v1H1181.5zM1179.9 95H1185.4v1H1179.9zM1177.8 96H1184.3v1H1177.8zM1176.8 97H1183.8v1H1176.8zM1174.6 98H1176.2v1H1174.6zM1175.5 99H1180.6v1H1175.5zM1175.8 100H1180.2v1H1175.8zM1175.2 101H1179v1H1175.2zM1173.2 102H1175.8v1H1173.2zM1174.3 103H1178.6v1H1174.3zM1173 104H1174.1v1H1173zM1176.1 105H1178.6v1H1176.1zM1177.9 106H1179.7v1H1177.9zM1177.4 107H1178.3v1H1177.4zM1180.6 108H1186.5v1H1180.6zM1183.8 109H1191v1H1183.8zM1187.5 110H1188.2v1H1187.5zM1195.4 111H1201.1v1H1195.4zM1198.2 112H1209.9v1H1198.2zM1200.7 113H1212.2v1H1200.7zM1208.6 114H1216v1H1208.6zM1212.1 115H1217.6v1H1212.1zM1216.1 116H1232.4v1H1216.1zM1218.9 117H1228.2v1H1218.9zM1230.8 118H1233.6v1H1230.8zM1233.5 119H1245.6v1H1233.5zM1237.7 120H1248.1v1H1237.7zM1235.7 121H1237.7v1H1235.7zM1245.6 122H1269.4v1H1245.6zM1245.2 123H1251.2v1H1245.2zM1236.9 124H1252.9v1H1236.9zM1232.9 125H1250.9v1H1232.9zM1230.4 126H1248.6v1H1230.4zM1227.1 127H1233.8v1H1227.1zM1225.2 128H1231.6v1H1225.2zM1212.7 129H1217.4v1H1212.7zM1222.5 130H1223.7v1H1222.5zM1219.9 131H1225.1v1H1219.9zM1215.4 132H1224.4v1H1215.4zM1217.9 133H1221.7v1H1217.9zM1217 134H1226.2v1H1217zM1223.3 135H1227.8v1H1223.3zM1225 136H1228.7v1H1225zM1231.9 137H1236.9v1H1231.9zM1236.4 138H1249.4v1H1236.4zM1231 139H1231.8v1H1231zM1241.2 140H1253.4v1H1241.2zM1232.5 141H1256v1H1232.5zM1228.2 142H1245.8v1H1228.2zM1221.9 143H1227.1v1H1221.9zM1220.4 144H1229.7v1H1220.4zM1217.3 145H1227.7v1H1217.3zM1211.5 146H1214.3v1H1211.5zM1216.3 147H1223.7v1H1216.3zM1210.9 148H1226.2v1H1210.9zM1219.2 149H1231.1v1H1219.2zM1221.3 150H1232.7v1H1221.3zM1223.9 151H1241.3v1H1223.9zM1231.2 152H1239.7v1H1231.2zM1229.3 153H1241.3v1H1229.3zM1224.8 154H1235.1v1H1224.8zM1230.8 155H1239.9v1H1230.8zM1229.6 156H1233.6v1H1229.6zM1215.8 157H1223.9v1H1215.8zM1211.1 158H1222.1v1H1211.1zM1204.8 159H1215v1H1204.8zM1200 160H1202.6v1H1200zM1195.8 161H1198.8v1H1195.8zM1192.6 162H1203.7v1H1192.6zM1191.9 163H1200.7v1H1191.9zM1188.8 164H1194.4v1H1188.8zM1184.5 165H1194.7v1H1184.5zM1186.3 166H1192.4v1H1186.3zM1181 167H1184.7v1H1181zM1178.8 168H1191.1v1H1178.8zM1177.8 169H1180v1H1177.8zM1178.2 170H1181.3v1H1178.2zM1176.5 171H1188.3v1H1176.5zM1175.7 172H1177.6v1H1175.7zM1173.8 173H1181.6v1H1173.8zM1175.3 174H1179.4v1H1175.3zM1171.6 175H1177.8v1H1171.6zM1171 176H1174.1v1H1171zM1168.5 177H1174.7v1H1168.5zM1167.9 178H1170.1v1H1167.9zM1165.4 179H1171.5v1H1165.4zM1164.2 180H1165.3v1H1164.2zM1163.8 181H1168.2v1H1163.8zM1163.1 182H1166.4v1H1163.1zM1162.6 183H1163.7v1H1162.6zM1162.5 184H1163.4v1H1162.5zM1162.2 185H1163.7v1H1162.2zM1162.1 186H1163.9v1H1162.1zM1161.7 187H1163v1H1161.7zM1161.8 188H1163.6v1H1161.8zM1161.4 189H1164.1v1H1161.4zM1161.6 190H1161.9v1H1161.6zM1161.5 191H1163.5v1H1161.5zM1161.8 192H1163.6v1H1161.8zM1161.7 193H1164.4v1H1161.7zM1161.9 194H1163.7v1H1161.9zM1162 195H1162.1v1H1162zM1162.3 196H1163.8v1H1162.3zM1162.4 197H1164.5v1H1162.4zM1162.2 198H1163.2v1H1162.2zM1162.5 199H1163.9v1H1162.5zM1162.7 200H1163.9v1H1162.7zM1162.5 201H1163.1v1H1162.5zM1162.8 202H1164.8v1H1162.8zM1163.3 203H1165.8v1H1163.3zM1163.2 204H1166.1v1H1163.2zM1163.2 205H1163.5v1H1163.2zM1163.5 206H1165v1H1163.5zM1163.5 207H1167.7v1H1163.5zM1163.7 208H1167.7v1H1163.7zM1164.1 209H1167v1H1164.1zM1164.3 210H1166.8v1H1164.3zM1164.2 211H1168.8v1H1164.2zM1163.7 212H1165.2v1H1163.7zM1164.7 213H1168.8v1H1164.7zM1165.2 214H1165.2v1H1165.2zM1165.6 215H1166.9v1H1165.6zM1166 216H1170.4v1H1166zM1165.8 217H1167.8v1H1165.8zM1166.1 218H1170v1H1166.1zM1166.1 219H1171.4v1H1166.1zM1165.5 220H1171.3v1H1165.5zM1165.7 221H1170.8v1H1165.7zM1165.5 222H1169.2v1H1165.5zM1165.3 223H1168.1v1H1165.3zM1165.6 224H1169v1H1165.6zM1165 225H1168.5v1H1165zM1164.7 226H1168.5v1H1164.7zM1165.1 227H1169.2v1H1165.1zM1164.7 228H1170v1H1164.7zM1165.1 229H1165.7v1H1165.1zM1165.6 230H1169.3v1H1165.6zM1165.3 231H1169.4v1H1165.3zM1166.8 232H1174.1v1H1166.8zM1166.8 233H1176.9v1H1166.8zM1171.8 234H1175.4v1H1171.8zM1174.8 235H1199.7v1H1174.8zM1180.3 236H1198.6v1H1180.3zM1185.2 237H1204.1v1H1185.2zM1192.6 238H1212.7v1H1192.6zM1194.4 239H1210v1H1194.4zM1196.1 240H1203.3v1H1196.1zM1199.5 241H1207.6v1H1199.5zM1189.9 242H1205.3v1H1189.9zM1198.7 243H1209.8v1H1198.7zM1196.9 244H1214.9v1H1196.9zM1198.4 245H1213.5v1H1198.4zM1203.7 246H1207.5v1H1203.7zM1206.3 247H1216.3v1H1206.3zM1213 248H1217.4v1H1213zM1207.6 249H1211.4v1H1207.6zM1209.2 250H1214v1H1209.2zM1219.7 251H1230.8v1H1219.7z" fill="#808080" fill-opacity="0.435" shape-rendering="crispEdges"/>
<path d="M1160 252H1231.9v1H1160zM1160 253H1241v1H1160zM1160 254H1233.7v1H1160zM1160 255H1258.8v1H1160zM1160 256H1248.5v1H1160zM1160 257H1270.4v1H1160zM1160 258H1257.9v1H1160zM1160 259H1263.7v1H1160zM1160 260H1252.4v1H1160zM1160 261H1273.9v1H1160zM1160 262H1267v1H1160zM1160 263H1256v1H1160zM1160 264H1259.5v1H1160zM1160 265H1250.9v1H1160zM1160 266H1246.9v1H1160zM1160 267H1254.3v1H1160zM1160 268H1251.1v1H1160zM1160 269H1258v1H1160zM1160 270H1251.9v1H1160zM1160 271H1261.6v1H1160zM1160 272H1261.8v1H1160zM1160 273H1252.5v1H1160zM1160 274H1251v1H1160zM1160 275H1242.7v1H1160zM1160 276H1233.3v1H1160zM1160 277H1233.7v1H1160zM1160 278H1231.8v1H1160zM1160 279H1225.6v1H1160zM1160 280H1230.8v1H1160zM1160 281H1222.3v1H1160zM1160 282H1215.2v1H1160zM1160 283H1226.6v1H1160zM1160 284H1215.1v1H1160zM1160 285H1223.3v1H1160zM1160 286H1221.2v1H1160zM1160 287H1216.5v1H1160zM1160 288H1224.3v1H1160zM1160 289H1224.4v1H1160zM1160 290H1224.5v1H1160zM1160 291H1234.3v1H1160zM1160 292H1230.6v1H1160zM1160 293H1235.4v1H1160zM1160 294H1245.4v1H1160zM1160 295H1235.6v1H1160zM1160 296H1240.9v1H1160zM1160 297H1238.7v1H1160zM1160 298H1251.1v1H1160zM1160 299H1237.5v1H1160zM1160 300H1243.8v1H1160zM1160 301H1241.1v1H1160zM1160 302H1240.8v1H1160zM1160 303H1243.1v1H1160zM1160 304H1249.7v1H1160zM1160 305H1246.5v1H1160zM1160 306H1261.4v1H1160zM1160 307H1263.3v1H1160zM1160 308H1255.7v1H1160zM1160 309H1272.2v1H1160zM1160 310H1267.4v1H1160zM1160 311H1270.2v1H1160zM1160 312H1271.3v1H1160zM1160 313H1276v1H1160zM1160 314H1276.4v1H1160zM1160 315H1275.8v1H1160zM1160 316H1280.5v1H1160zM1160 317H1289.9v1H1160zM1160 318H1276.2v1H1160zM1160 319H1279.7v1H1160zM1160 320H1290v1H1160zM1160 321H1271.4v1H1160zM1160 322H1282v1H1160zM1160 323H1279v1H1160zM1160 324H1289.1v1H1160zM1160 325H1282.6v1H1160zM1160 326H1270.9v1H1160zM1160 327H1281.7v1H1160zM1160 328H1291.2v1H1160zM1160 329H1257.9v1H1160zM1160 330H1264.2v1H1160zM1160 331H1290.2v1H1160zM1160 332H1277.8v1H1160zM1160 333H1278.4v1H1160zM1160 334H1266.6v1H1160zM1160 335H1273.6v1H1160zM1160 336H1270.2v1H1160zM1160 337H1274.5v1H1160zM1160 338H1266.1v1H1160zM1160 339H1271.6v1H1160zM1160 340H1268.2v1H1160zM1160 341H1276.2v1H1160zM1160 342H1266.7v1H1160zM1160 343H1250.5v1H1160zM1160 344H1264.5v1H1160zM1160 345H1261.8v1H1160zM1160 346H1269.4v1H1160zM1160 347H1253.9v1H1160zM1160 348H1256.1v1H1160zM1160 349H1257.9v1H1160zM1160 350H1250.9v1H1160zM1160 351H1248.9v1H1160zM1160 352H1250.7v1H1160zM1160 353H1234.4v1H1160zM1160 354H1237.5v1H1160zM1160 355H1234.6v1H1160zM1160 356H1241.5v1H1160zM1160 357H1230.5v1H1160zM1160 358H1231v1H1160zM1160 359H1227.1v1H1160zM1160 360H1225.8v1H1160zM1160 361H1229.5v1H1160zM1160 362H1236.2v1H1160zM1160 363H1228.6v1H1160zM1160 364H1226.3v1H1160zM1160 365H1233.5v1H1160zM1160 366H1230v1H1160zM1160 367H1225v1H1160zM1160 368H1221.6v1H1160zM1160 369H1221v1H1160zM1160 370H1221.8v1H1160zM1160 371H1215v1H1160zM1160 372H1215.1v1H1160zM1160 373H1213.1v1H1160zM1160 374H1212.9v1H1160zM1160 375H1206v1H1160zM1160 376H1206.5v1H1160zM1160 377H1210.3v1H1160zM1160 378H1202.3v1H1160zM1160 379H1201.8v1H1160zM1160 380H1200.2v1H1160zM1160 381H1203.4v1H1160zM1160 382H1211.6v1H1160zM1160 383H1212.5v1H1160zM1160 384H1209.6v1H1160zM1160 385H1221.2v1H1160zM1160 386H1221.6v1H1160zM1160 387H1226.7v1H1160zM1160 388H1242.2v1H1160zM1160 389H1237.7v1H1160zM1160 390H1243.7v1H1160zM1160 391H1238.7v1H1160zM1160 392H1240v1H1160zM1160 393H1229.4v1H1160zM1160 394H1242.2v1H1160zM1160 395H1233.5v1H1160zM1160 396H1223.4v1H1160z" fill="#4169e1" fill-opacity="0.87" shape-rendering="crispEdges"/>
<path d="M1231.9 252H1233.7v1H1231.9zM1241 253H1247.8v1H1241zM1233.7 254H1263.4v1H1233.7zM1258.8 255H1260.6v1H1258.8zM1248.5 256H1255.1v1H1248.5zM1270.4 257H1272.5v1H1270.4zM1257.9 258H1265.7v1H1257.9zM1263.7 259H1272.1v1H1263.7zM1252.4 260H1263.3v1H1252.4zM1273.9 261H1277v1H1273.9zM1267 262H1287.2v1H1267zM1256 263H1285.9v1H1256zM1259.5 264H1272.6v1H1259.5zM1250.9 265H1291.1v1H1250.9zM1246.9 266H1277.3v1H1246.9zM1254.3 267H1278.4v1H1254.3zM1251.1 268H1279.5v1H1251.1zM1258 269H1270.9v1H1258zM1251.9 270H1261.1v1H1251.9zM1261.6 271H1273.9v1H1261.6zM1261.8 272H1270.6v1H1261.8zM1252.5 273H1262.5v1H1252.5zM1251 274H1258.6v1H1251zM1242.7 275H1246.5v1H1242.7zM1233.3 276H1263v1H1233.3zM1233.7 277H1248.5v1H1233.7zM1231.8 278H1240.4v1H1231.8zM1225.6 279H1241.8v1H1225.6zM1230.8 280H1242.8v1H1230.8zM1222.3 281H1242.3v1H1222.3zM1215.2 282H1239.9v1H1215.2zM1226.6 283H1234v1H1226.6zM1215.1 284H1227.7v1H1215.1zM1223.3 285H1228.2v1H1223.3zM1221.2 286H1233.2v1H1221.2zM1216.5 287H1236.1v1H1216.5zM1224.3 288H1233.4v1H1224.3zM1224.4 289H1227.3v1H1224.4zM1224.5 290H1249.2v1H1224.5zM1234.3 291H1249.1v1H1234.3zM1230.6 292H1249.1v1H1230.6zM1235.4 293H1245.7v1H1235.4zM1245.4 294H1265.8v1H1245.4zM1235.6 295H1245.2v1H1235.6zM1240.9 296H1268.2v1H1240.9zM1238.7 297H1293v1H1238.7zM1251.1 298H1292.7v1H1251.1zM1237.5 299H1285.1v1H1237.5zM1243.8 300H1287v1H1243.8zM1241.1 301H1279.8v1H1241.1zM1240.8 302H1245.8v1H1240.8zM1243.1 303H1269.9v1H1243.1zM1249.7 304H1259.5v1H1249.7zM1246.5 305H1258.2v1H1246.5zM1261.4 306H1284v1H1261.4zM1263.3 307H1281.8v1H1263.3zM1255.7 308H1260v1H1255.7zM1272.2 309H1292.7v1H1272.2zM1267.4 310H1292v1H1267.4zM1270.2 311H1278v1H1270.2zM1271.3 312H1293.5v1H1271.3zM1276 313H1301.8v1H1276zM1276.4 314H1313.5v1H1276.4zM1275.8 315H1283.7v1H1275.8zM1280.5 316H1298.7v1H1280.5zM1289.9 317H1304.2v1H1289.9zM1276.2 318H1319.5v1H1276.2zM1279.7 319H1293.8v1H1279.7zM1290 320H1313.7v1H1290zM1271.4 321H1275v1H1271.4zM1282 322H1307v1H1282zM1279 323H1300.7v1H1279zM1289.1 324H1311.9v1H1289.1zM1282.6 325H1305.1v1H1282.6zM1270.9 326H1299.7v1H1270.9zM1281.7 327H1289.3v1H1281.7zM1291.2 328H1297.7v1H1291.2zM1257.9 329H1298.1v1H1257.9zM1264.2 330H1268.1v1H1264.2zM1290.2 331H1290.9v1H1290.2zM1277.8 332H1289.7v1H1277.8zM1278.4 333H1291v1H1278.4zM1266.6 334H1275.2v1H1266.6zM1273.6 335H1287.5v1H1273.6zM1270.2 336H1297.7v1H1270.2zM1274.5 337H1291.9v1H1274.5zM1266.1 338H1293.3v1H1266.1zM1271.6 339H1279.1v1H1271.6zM1268.2 340H1290.9v1H1268.2zM1276.2 341H1295.9v1H1276.2zM1266.7 342H1295.1v1H1266.7zM1250.5 343H1287.9v1H1250.5zM1264.5 344H1273.8v1H1264.5zM1261.8 345H1262.9v1H1261.8zM1269.4 346H1286.7v1H1269.4zM1253.9 347H1267.5v1H1253.9zM1256.1 348H1277.9v1H1256.1zM1257.9 349H1281.7v1H1257.9zM1250.9 350H1257.4v1H1250.9zM1248.9 351H1258.9v1H1248.9zM1250.7 352H1258.9v1H1250.7zM1234.4 353H1239.1v1H1234.4zM1237.5 354H1254.8v1H1237.5zM1234.6 355H1246.5v1H1234.6zM1241.5 356H1252.2v1H1241.5zM1230.5 357H1243.8v1H1230.5zM1231 358H1234.8v1H1231zM1227.1 359H1243.3v1H1227.1zM1225.8 360H1234.8v1H1225.8zM1229.5 361H1230.7v1H1229.5zM1236.2 362H1257.5v1H1236.2zM1228.6 363H1263.7v1H1228.6zM1226.3 364H1244.7v1H1226.3zM1233.5 365H1255v1H1233.5zM1230 366H1230.8v1H1230zM1225 367H1232.2v1H1225zM1221.6 368H1222.2v1H1221.6zM1221 369H1240.5v1H1221zM1221.8 370H1223.3v1H1221.8zM1215 371H1237.6v1H1215zM1215.1 372H1224.2v1H1215.1zM1213.1 373H1228.5v1H1213.1zM1212.9 374H1227.2v1H1212.9zM1206 375H1213.1v1H1206zM1206.5 376H1216.2v1H1206.5zM1210.3 377H1212.5v1H1210.3zM1202.3 378H1207.6v1H1202.3zM1201.8 379H1210.4v1H1201.8zM1200.2 380H1214.1v1H1200.2zM1203.4 381H1212.2v1H1203.4zM1211.6 382H1212.6v1H1211.6zM1212.5 383H1222.4v1H1212.5zM1209.6 384H1232.8v1H1209.6zM1221.2 385H1229.4v1H1221.2zM1221.6 386H1239.8v1H1221.6zM1226.7 387H1234.1v1H1226.7zM1242.2 388H1244.8v1H1242.2zM1237.7 389H1248.3v1H1237.7zM1243.7 390H1253.2v1H1243.7zM1238.7 391H1254.1v1H1238.7zM1240 392H1252v1H1240zM1229.4 393H1231.3v1H1229.4zM1242.2 394H1249.9v1H1242.2zM1233.5 395H1234.3v1H1233.5zM1223.4 396H1238.5v1H1223.4z" fill="#4169e1" fill-opacity="0.435" shape-rendering="crispEdges"/>
<path d="M1160 397H1207.3v1H1160zM1160 398H1198.5v1H1160zM1160 399H1193.5v1H1160zM1160 400H1195.1v1H1160zM1160 401H1193.3v1H1160zM1160 402H1192.9v1H1160zM1160 403H1188.8v1H1160zM1160 404H1184.6v1H1160zM1160 405H1181.5v1H1160zM1160 406H1181.3v1H1160zM1160 407H1177.3v1H1160zM1160 408H1179.6v1H1160zM1160 409H1178.2v1H1160zM1160 410H1179.2v1H1160zM1160 411H1180.2v1H1160zM1160 412H1184v1H1160zM1160 413H1184v1H1160zM1160 414H1190.2v1H1160zM1160 415H1191.2v1H1160zM1160 416H1189.8v1H1160zM1160 417H1185.4v1H1160zM1160 418H1186.2v1H1160zM1160 419H1186.3v1H1160zM1160 420H1182.6v1H1160zM1160 421H1184.5v1H1160zM1160 422H1187.6v1H1160zM1160 423H1184.3v1H1160zM1160 424H1186.9v1H1160zM1160 425H1191.6v1H1160zM1160 426H1189.3v1H1160zM1160 427H1183.2v1H1160zM1160 428H1182.2v1H1160zM1160 429H1179.9v1H1160zM1160 430H1175.8v1H1160zM1160 431H1175.6v1H1160zM1160 432H1175.6v1H1160zM1160 433H1172.7v1H1160zM1160 434H1173.5v1H1160zM1160 435H1171.3v1H1160zM1160 436H1172.3v1H1160zM1160 437H1170.8v1H1160zM1160 438H1171.5v1H1160zM1160 439H1170.1v1H1160zM1160 440H1169.7v1H1160zM1160 441H1170.1v1H1160zM1160 442H1169.3v1H1160zM1160 443H1173.3v1H1160zM1160 444H1172.9v1H1160zM1160 445H1170.5v1H1160zM1160 446H1170.8v1H1160zM1160 447H1170.3v1H1160zM1160 448H1169v1H1160zM1160 449H1169v1H1160zM1160 450H1167.6v1H1160zM1160 451H1166.2v1H1160zM1160 452H1166.3v1H1160zM1160 453H1165.9v1H1160zM1160 454H1165.2v1H1160zM1160 455H1164.8v1H1160zM1160 456H1164.6v1H1160zM1160 457H1164.2v1H1160zM1160 458H1163.7v1H1160zM1160 459H1162.9v1H1160zM1160 460H1162.5v1H1160zM1160 461H1162v1H1160zM1160 462H1161.5v1H1160zM1160 463H1161.1v1H1160z" fill="#808080" fill-opacity="0.87" shape-rendering="crispEdges"/>
<path d="M1207.3 397H1215.1v1H1207.3zM1198.5 398H1219.3v1H1198.5zM1193.5 399H1216.1v1H1193.5zM1195.1 400H1195.5v1H1195.1zM1193.3 401H1200v1H1193.3zM1192.9 402H1197.9v1H1192.9zM1188.8 403H1191.1v1H1188.8zM1184.6 404H1190.9v1H1184.6zM1181.5 405H1183.4v1H1181.5zM1181.3 406H1190.5v1H1181.3zM1177.3 407H1177.4v1H1177.3zM1179.6 408H1188.7v1H1179.6zM1178.2 409H1185.5v1H1178.2zM1179.2 410H1189.3v1H1179.2zM1180.2 411H1181.7v1H1180.2zM1184 412H1187.4v1H1184zM1184 413H1189.2v1H1184zM1190.2 414H1191v1H1190.2zM1191.2 415H1212.6v1H1191.2zM1189.8 416H1193.5v1H1189.8zM1185.4 417H1199.7v1H1185.4zM1186.2 418H1188.9v1H1186.2zM1186.3 419H1198.2v1H1186.3zM1182.6 420H1184.6v1H1182.6zM1184.5 421H1193.9v1H1184.5zM1187.6 422H1189.2v1H1187.6zM1184.3 423H1191.4v1H1184.3zM1186.9 424H1190.6v1H1186.9zM1191.6 425H1202v1H1191.6zM1189.3 426H1189.5v1H1189.3zM1183.2 427H1185.3v1H1183.2zM1182.2 428H1190.7v1H1182.2zM1179.9 429H1187v1H1179.9zM1175.8 430H1184.8v1H1175.8zM1175.6 431H1183.2v1H1175.6zM1175.6 432H1182.7v1H1175.6zM1172.7 433H1181.6v1H1172.7zM1173.5 434H1173.9v1H1173.5zM1171.3 435H1177v1H1171.3zM1172.3 436H1177.1v1H1172.3zM1170.8 437H1172.4v1H1170.8zM1171.5 438H1175.4v1H1171.5zM1170.1 439H1172.4v1H1170.1zM1169.7 440H1172.9v1H1169.7zM1170.1 441H1171.4v1H1170.1zM1169.3 442H1178.3v1H1169.3zM1173.3 443H1184.2v1H1173.3zM1172.9 444H1185.1v1H1172.9zM1170.5 445H1180.2v1H1170.5zM1170.8 446H1175.2v1H1170.8zM1170.3 447H1170.6v1H1170.3zM1169 448H1176.1v1H1169zM1169 449H1171.4v1H1169zM1167.6 450H1173.5v1H1167.6zM1166.2 451H1172v1H1166.2zM1166.3 452H1171.2v1H1166.3zM1165.9 453H1167.9v1H1165.9zM1165.2 454H1168.1v1H1165.2zM1164.8 455H1169.3v1H1164.8zM1164.6 456H1167.6v1H1164.6zM1164.2 457H1166.6v1H1164.2zM1163.7 458H1167.1v1H1163.7zM1162.9 459H1165.6v1H1162.9zM1162.5 460H1163.5v1H1162.5zM1162 461H1163.1v1H1162zM1161.5 462H1162.5v1H1161.5zM1161.1 463H1162.9v1H1161.1z" fill="#808080" fill-opacity="0.435" shape-rendering="crispEdges"/>
<rect x="6" y="206" width="167.6" height="1" fill="#fff" fill-opacity=".22" shape-rendering="crispEdges"/>
<rect x="6" y="313" width="271.2" height="1" fill="#fff" fill-opacity=".22" shape-rendering="crispEdges"/>
<rect x="6" y="420" width="39.3" height="1" fill="#fff" fill-opacity=".22" shape-rendering="crispEdges"/>
<rect x="6" y="633" width="448" height="1" fill="#fff" fill-opacity=".22" shape-rendering="crispEdges"/>
<rect x="1160" y="313" width="113.6" height="1" fill="#fff" fill-opacity=".22" shape-rendering="crispEdges"/>
<path d="M6 62.5H1534M6 802.5H1534M1160 464.5H1534" stroke="#fff000" stroke-width="1" stroke-dasharray="1 1" fill="none" shape-rendering="crispEdges"/>
<path d="M5.5 62V803M1160.5 62V464M1533.5 62V803" stroke="#fff000" stroke-width="1" stroke-dasharray="1 1" fill="none" shape-rendering="crispEdges"/>
<path d="M6 69.5H1536" stroke="#6e6e6e" stroke-width="1" stroke-dasharray="2.5 1.5" fill="none" />
<path d="M1160 252.5H1536" stroke="#6e6e6e" stroke-width="1" stroke-dasharray="2.5 1.5" fill="none" />
<path d="M1160 397.5H1536" stroke="#6e6e6e" stroke-width="1" stroke-dasharray="2.5 1.5" fill="none" />
<path d="M6 598.5H1536" stroke="#6e6e6e" stroke-width="1" stroke-dasharray="2.5 1.5" fill="none" />
<path d="M640 258.8H756" stroke="#ff8c00" stroke-width="2" fill="none"/>
<path d="M6 258.8H1536" stroke="#ff8c00" stroke-width="2" stroke-dasharray="5.8 2.3" fill="none" />
<path d="M1160 335.9H1300" stroke="#a0622a" stroke-width="1" fill="none"/>
<path d="M1160 335.7H1536" stroke="#ff8c00" stroke-width="2" stroke-dasharray="5.8 2.3" fill="none" />
<path d="M13.4 761.9L20.8 760.1L26.9 744.3L33 722.2L39.1 702.7L46.5 688L52.6 678.2L68.5 666L83.1 655L97.8 645.2L112.5 636.7L127.1 635L141.8 632.3L156.5 631.1L168.7 631.1L185.8 636.7L202.9 642.1L220 646.5L231.1 648.9L254.3 646.5L268.9 644.5L293.4 642.8L308.1 644L325.2 645L342.3 644.5L361.9 644L376.5 641.6L397.5 640.9L414.9 640.8L432.4 643.4L449.8 646.9L467.3 649.7L484.8 650.4L502.2 650L519.7 649.1L537.2 647.4L554.6 646.2L572.1 644.4L589.5 640.9L607 638.1L624.5 636.6L641.9 635.5L654 634.6L659.4 633.4L668 632.3L680 631.3L698.7 627L712.7 626.2L723.9 624.8L737.9 623.4L751.9 619.7L765.8 616.4L779.8 611.4L793.8 607.2L807.8 601L821.8 595.4L835.7 588.4L849.7 582.3L863.7 576.4L877.7 570.8L891.7 565.2L905.7 559.9L919.6 555.7L925.2 553.5L932.2 552.9L942 549.3L961.6 544.2L975.6 539.5L989.6 534.5L1003.5 531.7L1017.5 526.9L1031.5 523.3L1045.5 518.5L1059.5 515.7L1073.4 512.1L1087.4 507.3L1100 502.5L1128.5 492.6L1165.5 482.6L1194 474.6L1228.2 464.1L1253.8 460.4L1276.6 458.4L1299.4 454.1L1316.5 452.1L1350.6 448.4L1384.8 445.6L1413.3 445L1447.5 442.2L1481.7 439.9L1510.1 437.9L1530.1 436.5" stroke="#4682b4" stroke-width="2" stroke-dasharray="5.8 2.3" fill="none" stroke-linejoin="round"/>
<path d="M1160.2 77.9L1167.2 91.9L1176.9 103.1L1182.5 110.1L1188.1 115.7L1196.5 118.5L1207.7 118.5L1214.7 123.2L1221.7 128.3L1232.8 132.4L1237 138L1241.2 145L1252.4 161.8L1263.6 181.4L1273.4 192.5L1291.5 200.9L1312.5 209.9L1327.9 219.1L1344.6 223.8L1355.8 225.5L1387.6 244L1400 255.2L1414 263.5L1427.9 269.1L1441.9 271.4L1455.9 271.9L1478.3 274.7L1497.8 279.7L1511.8 282.5L1523 285.3L1533.6 285.9" stroke="#4682b4" stroke-width="2" stroke-dasharray="5.8 2.3" fill="none" stroke-linejoin="round"/>
<rect x="755" y="179.6" width="1129" height="54.4" fill="#b0c4de" fill-opacity="0.4" shape-rendering="crispEdges"/>
<rect x="0" y="478" width="746" height="37.6" fill="#ff0000" fill-opacity="0.2" shape-rendering="crispEdges"/>
<rect x="746" y="478" width="1138" height="37.6" fill="#008000" fill-opacity="0.2" shape-rendering="crispEdges"/>
<path d="M1530 378.9H1884" stroke="#ff7f50" stroke-width="1.8" stroke-dasharray="5.8 2.3" fill="none" />
<path d="M1530 388.8H1884" stroke="#ff7f50" stroke-width="1.8" stroke-dasharray="5.8 2.3" fill="none" />
<path d="M1530 387.2H1884" stroke="#4169e1" stroke-width="2" stroke-dasharray="10 4" fill="none" />
<path d="M1884 379.8H1879L1875.5 381.5L1872.5 383.5L1876 385L1872.5 386.2L1878 388H1884z" fill="#96aaeb"/>
<path d="M1872.5 382.2L1876.5 384L1873 385.8L1874.8 384z" fill="#fff"/>
<g fill="none" stroke-linecap="butt">
<ellipse cx="77" cy="187.7" rx="247.5" ry="48.2" stroke="#000" stroke-width="1.9"/>
<ellipse cx="77" cy="501" rx="244" ry="47.8" stroke="#000" stroke-width="1.9"/>
<path d="M1119.2 63.4L1134.8 38.4L1142.9 56.4L1162 11.5L1180.9 58.3L1186.1 38.4L1201.2 66.6" stroke="#f00" stroke-width="2" stroke-linejoin="miter"/>
<path d="M1743.9 262.9L1783 208.5L1830.3 267.5M1767.1 309.8L1783 291.7L1818.2 331M1778.5 414.1L1787 431L1826.3 366.8M1766.9 456.8L1795.1 491.1L1834.3 425.6" stroke="#00f" stroke-width="2"/>
<path d="M1549.5 287H1883" stroke="#00f" stroke-width="2" stroke-dasharray="7.5 3"/>
<path d="M1530 435.5H1884" stroke="#00f" stroke-width="2" stroke-dasharray="7.5 3"/>
</g>
<path d="M1833.5 0V808M1883.5 0V808" stroke="#5ff" stroke-width="1" stroke-dasharray="1 1" fill="none" shape-rendering="crispEdges"/>
<g font-family="'Liberation Sans', sans-serif">
<text x="5.4" y="16" font-size="11" fill="#111" textLength="551" lengthAdjust="spacingAndGlyphs">MZpack.NT8.mzVolumeProfile MZpack 3.19.10(FDAX 12-25 (1000 Tick)), Tick counter(FDAX 12-25 (1000 Tick),true,false)</text>
<text x="5" y="800" font-size="11" fill="#111" textLength="113" lengthAdjust="spacingAndGlyphs">© 2025 NinjaTrader, LLC</text>
<text x="1303" y="678" font-size="24" fill="#111" textLength="555.7" lengthAdjust="spacingAndGlyphs">FDAX 1000 Ticks für den 16.10.25 by While E. Coyote</text>
<text x="1303" y="709" font-size="24" fill="#111" textLength="297" lengthAdjust="spacingAndGlyphs">DAX/FDAX heute ~ -110 Pkt</text>
<text x="1781.8" y="78.1" font-size="14.5" fill="#111" textLength="52" lengthAdjust="spacingAndGlyphs">ATH Dax</text>
<text x="1389" y="210" font-size="14.5" fill="#111" textLength="168" lengthAdjust="spacingAndGlyphs">extremer low Volume Node</text>
<text x="1404.8" y="503.3" font-size="14.5" fill="#111" textLength="188" lengthAdjust="spacingAndGlyphs">September-Nackenlinie Boden</text>
<text x="1466.4" y="781.5" font-size="14.5" fill="#111" textLength="107.4" lengthAdjust="spacingAndGlyphs">Septemberboden</text>
<text x="1165" y="487.5" font-size="11" fill="#111">Σ 135,7K</text>
<text x="1165" y="504.3" font-size="11" fill="#c0301c">-135,6K</text>
<text x="1165" y="520.8" font-size="11" fill="#111" textLength="84.5" lengthAdjust="spacingAndGlyphs">H/L: 24891-24091</text>
<text x="1872.6" y="795" font-size="11" fill="#111" text-anchor="end" textLength="111" lengthAdjust="spacingAndGlyphs">Ticks verbleibend =751</text>
<text x="1883.7" y="356" font-size="11" fill="#111" text-anchor="end" textLength="45" lengthAdjust="spacingAndGlyphs">Session[0</text>
<text x="1884" y="417.5" font-size="11" fill="#111" text-anchor="end">Σ 275</text>
<text x="1883.5" y="434.6" font-size="11" fill="#ff2020" text-anchor="end">-241</text>
<path d="M1534 70L1537 64.5V61H1572V79H1537V75.5z" fill="#808080"/>
<text x="1540.2" y="75" font-size="11" fill="#fff" textLength="29" lengthAdjust="spacingAndGlyphs">24878</text>
<path d="M1534 253.1L1537 247.6V244.1H1572V262.1H1537V258.6z" fill="#808080"/>
<path d="M1534 258.9L1537 253.4V249.9H1572V267.9H1537V264.4z" fill="#ff8c00"/>
<text x="1540.2" y="263.9" font-size="11" fill="#fff" textLength="29" lengthAdjust="spacingAndGlyphs">24501</text>
<path d="M1534 336L1537 330.5V327H1572V345H1537V341.5z" fill="#ff8c00"/>
<text x="1540.2" y="341" font-size="11" fill="#fff" textLength="29" lengthAdjust="spacingAndGlyphs">24349</text>
<path d="M1534 398.2L1537 392.7V389.2H1572V407.2H1537V403.7z" fill="#808080"/>
<text x="1540.2" y="403.2" font-size="11" fill="#fff" textLength="29" lengthAdjust="spacingAndGlyphs">24225</text>
<path d="M1534 599.2L1537 593.7V590.2H1572V608.2H1537V604.7z" fill="#808080"/>
<text x="1540.2" y="604.2" font-size="11" fill="#fff" textLength="29" lengthAdjust="spacingAndGlyphs">23824</text>
<path d="M1833 370H1867.5L1872 375V383L1867.5 388H1833z" fill="#ff7f50"/>
<text x="1836.3" y="384" font-size="11" fill="#fff" textLength="29" lengthAdjust="spacingAndGlyphs">24263</text>
<path d="M1833 380H1867.5L1872 385V393L1867.5 398H1833z" fill="#ff7f50"/>
<text x="1836.3" y="394" font-size="11" fill="#fff" textLength="29" lengthAdjust="spacingAndGlyphs">24243</text>
<ellipse cx="1520.3" cy="283.1" rx="119.5" ry="18.2" fill="none" stroke="#000" stroke-width="1.9"/>
<ellipse cx="1463.4" cy="445.1" rx="149.2" ry="23.8" fill="none" stroke="#000" stroke-width="1.9"/>
<rect x="1887" y="0" width="44" height="859" fill="#fff"/>
<rect x="0" y="811" width="1931" height="48" fill="#fff"/>
<path d="M0 810.5H1887M1886.5 0V811" stroke="#000" stroke-width="1.4" fill="none" shape-rendering="crispEdges"/>
<path d="M1886 8.5h6M1886 58.5h6M1886 108.5h6M1886 158.5h6M1886 209.5h6M1886 259.5h6M1886 309.5h6M1886 359.5h6M1886 409.5h6M1886 460.5h6M1886 510.5h6M1886 560.5h6M1886 610.5h6M1886 660.5h6M1886 711.5h6M1886 761.5h6M85.5 811v5M167.5 811v5M237.5 811v5M311.5 811v5M389.5 811v5M447.5 811v5M490.5 811v5M548.5 811v5M572.5 811v5M642.5 811v5M708.5 811v5M766.5 811v5M798.5 811v5M879.5 811v5M934.5 811v5M1000.5 811v5M1058.5 811v5M1128.5 811v5M1194.5 811v5M1253.5 811v5M1280.5 811v5M1354.5 811v5M1412.5 811v5M1451.5 811v5M1529.5 811v5M1587.5 811v5M1657.5 811v5M1731.5 811v5" stroke="#000" stroke-width="1" fill="none" shape-rendering="crispEdges"/>
<text x="1895" y="63" font-size="11" fill="#111" textLength="28.2" lengthAdjust="spacingAndGlyphs">24900</text>
<text x="1895" y="113" font-size="11" fill="#111" textLength="28.2" lengthAdjust="spacingAndGlyphs">24800</text>
<text x="1895" y="163" font-size="11" fill="#111" textLength="28.2" lengthAdjust="spacingAndGlyphs">24700</text>
<text x="1895" y="214" font-size="11" fill="#111" textLength="28.2" lengthAdjust="spacingAndGlyphs">24600</text>
<text x="1895" y="264" font-size="11" fill="#111" textLength="28.2" lengthAdjust="spacingAndGlyphs">24500</text>
<text x="1895" y="314" font-size="11" fill="#111" textLength="28.2" lengthAdjust="spacingAndGlyphs">24400</text>
<text x="1895" y="364" font-size="11" fill="#111" textLength="28.2" lengthAdjust="spacingAndGlyphs">24300</text>
<text x="1895" y="414" font-size="11" fill="#111" textLength="28.2" lengthAdjust="spacingAndGlyphs">24200</text>
<text x="1895" y="465" font-size="11" fill="#111" textLength="28.2" lengthAdjust="spacingAndGlyphs">24100</text>
<text x="1895" y="515" font-size="11" fill="#111" textLength="28.2" lengthAdjust="spacingAndGlyphs">24000</text>
<text x="1895" y="565" font-size="11" fill="#111" textLength="28.2" lengthAdjust="spacingAndGlyphs">23900</text>
<text x="1895" y="615" font-size="11" fill="#111" textLength="28.2" lengthAdjust="spacingAndGlyphs">23800</text>
<text x="1895" y="665" font-size="11" fill="#111" textLength="28.2" lengthAdjust="spacingAndGlyphs">23700</text>
<text x="1895" y="716" font-size="11" fill="#111" textLength="28.2" lengthAdjust="spacingAndGlyphs">23600</text>
<text x="1895" y="766" font-size="11" fill="#111" textLength="28.2" lengthAdjust="spacingAndGlyphs">23500</text>
<text x="69.5" y="833.2" font-size="11" fill="#111" textLength="33.6" lengthAdjust="spacingAndGlyphs">19. Sep</text>
<text x="151.2" y="833.2" font-size="11" fill="#111" textLength="33.6" lengthAdjust="spacingAndGlyphs">22. Sep</text>
<text x="221.2" y="833.2" font-size="11" fill="#111" textLength="33.6" lengthAdjust="spacingAndGlyphs">23. Sep</text>
<text x="295.2" y="833.2" font-size="11" fill="#111" textLength="33.6" lengthAdjust="spacingAndGlyphs">24. Sep</text>
<text x="373.2" y="833.2" font-size="11" fill="#111" textLength="33.6" lengthAdjust="spacingAndGlyphs">25. Sep</text>
<text x="474.2" y="833.2" font-size="11" fill="#111" textLength="33.6" lengthAdjust="spacingAndGlyphs">26. Sep</text>
<text x="556.2" y="833.2" font-size="11" fill="#111" textLength="33.6" lengthAdjust="spacingAndGlyphs">29. Sep</text>
<text x="626.2" y="833.2" font-size="11" fill="#111" textLength="33.6" lengthAdjust="spacingAndGlyphs">30. Sep</text>
<text x="695.7" y="833.2" font-size="11" fill="#111" textLength="27" lengthAdjust="spacingAndGlyphs">1. Okt</text>
<text x="785.7" y="833.2" font-size="11" fill="#111" textLength="27" lengthAdjust="spacingAndGlyphs">2. Okt</text>
<text x="866.5" y="833.2" font-size="11" fill="#111" textLength="27" lengthAdjust="spacingAndGlyphs">3. Okt</text>
<text x="921.5" y="833.2" font-size="11" fill="#111" textLength="27" lengthAdjust="spacingAndGlyphs">6. Okt</text>
<text x="987.5" y="833.2" font-size="11" fill="#111" textLength="27" lengthAdjust="spacingAndGlyphs">7. Okt</text>
<text x="1045.5" y="833.2" font-size="11" fill="#111" textLength="27" lengthAdjust="spacingAndGlyphs">8. Okt</text>
<text x="1115.5" y="833.2" font-size="11" fill="#111" textLength="27" lengthAdjust="spacingAndGlyphs">9. Okt</text>
<text x="1178.7" y="833.2" font-size="11" fill="#111" textLength="32.6" lengthAdjust="spacingAndGlyphs">10. Okt</text>
<text x="1264.7" y="833.2" font-size="11" fill="#111" textLength="32.6" lengthAdjust="spacingAndGlyphs">13. Okt</text>
<text x="1338.7" y="833.2" font-size="11" fill="#111" textLength="32.6" lengthAdjust="spacingAndGlyphs">14. Okt</text>
<text x="1435.7" y="833.2" font-size="11" fill="#111" textLength="32.6" lengthAdjust="spacingAndGlyphs">15. Okt</text>
<text x="1513.7" y="833.2" font-size="11" fill="#111" textLength="32.6" lengthAdjust="spacingAndGlyphs">16. Okt</text>
<text x="1571.9" y="833.2" font-size="11" fill="#111" textLength="32.6" lengthAdjust="spacingAndGlyphs">17. Okt</text>
<text x="1641.7" y="833.2" font-size="11" fill="#111" textLength="32.6" lengthAdjust="spacingAndGlyphs">20. Okt</text>
<text x="1715.7" y="833.2" font-size="11" fill="#111" textLength="32.6" lengthAdjust="spacingAndGlyphs">21. Okt</text>
<text x="4" y="853" font-size="10.5" fill="#111" textLength="74" lengthAdjust="spacingAndGlyphs">FDAX 12-25 T1000</text>
<path d="M1879.7 389.2L1886.5 380.1H1930V398.7H1886.5z" fill="#000"/>
<text x="1895.1" y="393.8" font-size="11" fill="#fff" textLength="27.8" lengthAdjust="spacingAndGlyphs">24241</text>
<rect x="1911.5" y="2.5" width="17.5" height="20" fill="#6c6c6c" stroke="#858585" stroke-width="1"/>
<text x="1916.2" y="18.1" font-size="15.5" fill="#ececec" textLength="8" lengthAdjust="spacingAndGlyphs">F</text>
<path d="M1872 21H1855M1862.3 13.6L1854.8 21L1862.3 28.2" stroke="#000" stroke-width="1.75" fill="none"/>
<text x="1818" y="853.7" font-size="15" fill="#e8320e" textLength="111" lengthAdjust="spacingAndGlyphs" font-weight="bold">NINJATRADER</text>
</g></svg></body></html>
